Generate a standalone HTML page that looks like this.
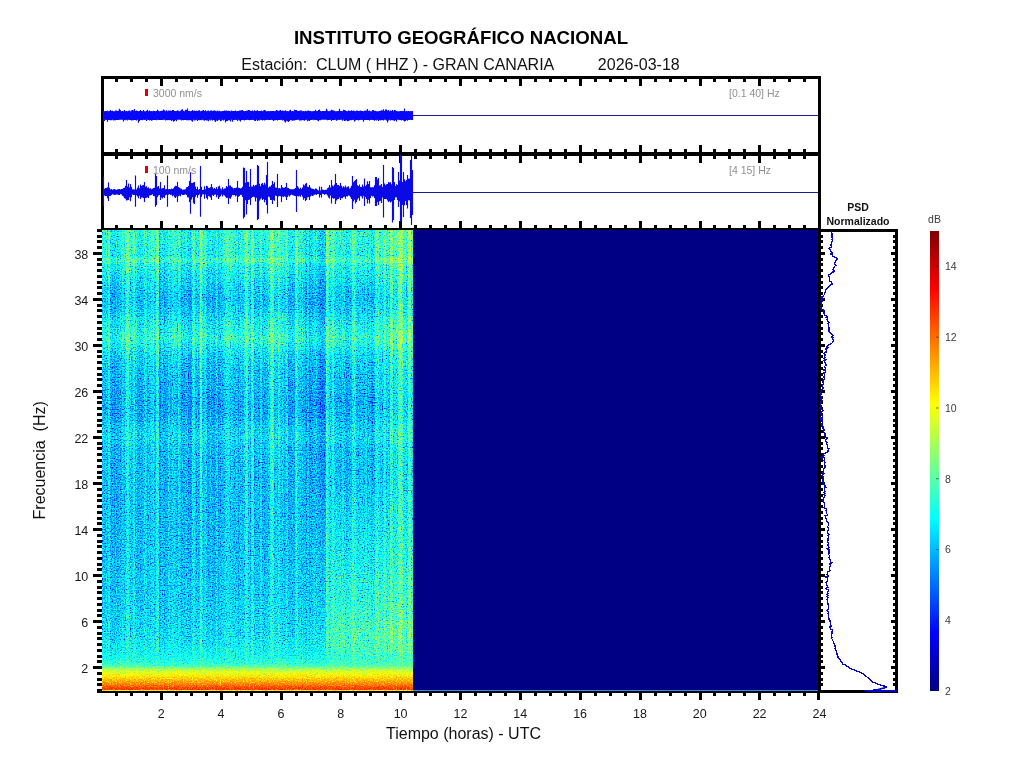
<!DOCTYPE html>
<html><head><meta charset="utf-8"><title>IGN CLUM HHZ</title>
<style>
html,body{margin:0;padding:0;background:#fff;}
body{width:1024px;height:768px;overflow:hidden;font-family:"Liberation Sans",sans-serif;}
svg{display:block;position:absolute;left:0;top:0;}
text{font-family:"Liberation Sans",sans-serif;}
.k{fill:#000;shape-rendering:crispEdges;}
.tl{font-size:12.5px;fill:#1a1a1a;}
.gl{font-size:10.5px;fill:#909090;}
.cl{font-size:10.5px;fill:#3a3a3a;}
</style></head><body>
<svg width="1024" height="768" viewBox="0 0 1024 768" style="opacity:0.999">
<defs>
<filter id="jet" filterUnits="userSpaceOnUse" x="98" y="226" width="319" height="469" color-interpolation-filters="sRGB">
<feTurbulence type="fractalNoise" baseFrequency="0.79 0.74" numOctaves="2" seed="11" result="n"/>
<feColorMatrix in="n" type="matrix" values="1 0 0 0 0 1 0 0 0 0 1 0 0 0 0 0 0 0 0 1" result="g"/>
<feComponentTransfer in="g" result="s">
<feFuncR type="table" tableValues="0.289 0.289 0.289 0.289 0.289 0.289 0.289 0.291 0.297 0.307 0.323 0.356 0.365 0.378 0.397 0.429 0.442 0.461 0.479 0.496 0.514 0.53 0.546 0.556 0.568 0.581 0.596 0.61 0.62 0.63 0.642 0.654 0.665 0.677 0.687 0.696 0.704 0.712 0.721 0.73 0.738 0.744 0.751 0.761 0.771 0.779 0.786 0.792 0.796 0.799 0.81 0.819 0.824 0.827 0.83 0.834 0.837 0.838 0.839 0.839 0.839 0.839 0.839 0.839 0.839"/><feFuncG type="table" tableValues="0.289 0.289 0.289 0.289 0.289 0.289 0.289 0.291 0.297 0.307 0.323 0.356 0.365 0.378 0.397 0.429 0.442 0.461 0.479 0.496 0.514 0.53 0.546 0.556 0.568 0.581 0.596 0.61 0.62 0.63 0.642 0.654 0.665 0.677 0.687 0.696 0.704 0.712 0.721 0.73 0.738 0.744 0.751 0.761 0.771 0.779 0.786 0.792 0.796 0.799 0.81 0.819 0.824 0.827 0.83 0.834 0.837 0.838 0.839 0.839 0.839 0.839 0.839 0.839 0.839"/><feFuncB type="table" tableValues="0.289 0.289 0.289 0.289 0.289 0.289 0.289 0.291 0.297 0.307 0.323 0.356 0.365 0.378 0.397 0.429 0.442 0.461 0.479 0.496 0.514 0.53 0.546 0.556 0.568 0.581 0.596 0.61 0.62 0.63 0.642 0.654 0.665 0.677 0.687 0.696 0.704 0.712 0.721 0.73 0.738 0.744 0.751 0.761 0.771 0.779 0.786 0.792 0.796 0.799 0.81 0.819 0.824 0.827 0.83 0.834 0.837 0.838 0.839 0.839 0.839 0.839 0.839 0.839 0.839"/>
</feComponentTransfer>
<feComposite in="SourceGraphic" in2="s" operator="arithmetic" k1="0" k2="1" k3="0.6923" k4="-0.4615" result="v"/>
<feComponentTransfer in="v" result="c">
<feFuncR type="table" tableValues="0 0 0 0 .5 1 1 1 .5"/>
<feFuncG type="table" tableValues="0 0 .5 1 1 1 .5 0 0"/>
<feFuncB type="table" tableValues=".5 1 1 1 .5 0 0 0 0"/>
</feComponentTransfer>
<feGaussianBlur in="c" stdDeviation="0.35" result="c1"/>
<feGaussianBlur in="c" stdDeviation="0.65" result="b"/>
<feColorMatrix in="c1" type="matrix" values=".299 .587 .114 0 0 .299 .587 .114 0 0 .299 .587 .114 0 0 0 0 0 0 1" result="Lc"/>
<feColorMatrix in="b" type="matrix" values=".299 .587 .114 0 0 .299 .587 .114 0 0 .299 .587 .114 0 0 0 0 0 0 1" result="Lb"/>
<feComposite in="Lc" in2="Lb" operator="arithmetic" k1="0" k2="0.5" k3="-0.5" k4="0.5" result="D"/>
<feComposite in="b" in2="D" operator="arithmetic" k1="0" k2="1" k3="2" k4="-1"/>
</filter>
<filter id="jet2" filterUnits="userSpaceOnUse" x="98" y="226" width="319" height="469" color-interpolation-filters="sRGB">
<feTurbulence type="fractalNoise" baseFrequency="0.79 0.74" numOctaves="2" seed="11" result="n"/>
<feColorMatrix in="n" type="matrix" values="1 0 0 0 0 1 0 0 0 0 1 0 0 0 0 0 0 0 0 1" result="g"/>
<feComponentTransfer in="g" result="s">
<feFuncR type="table" tableValues="0.289 0.289 0.289 0.289 0.289 0.289 0.289 0.291 0.297 0.307 0.323 0.356 0.365 0.378 0.397 0.429 0.442 0.461 0.479 0.496 0.514 0.53 0.546 0.556 0.568 0.581 0.596 0.61 0.62 0.63 0.642 0.654 0.665 0.677 0.687 0.696 0.704 0.712 0.721 0.73 0.738 0.744 0.751 0.761 0.771 0.779 0.786 0.792 0.796 0.799 0.81 0.819 0.824 0.827 0.83 0.834 0.837 0.838 0.839 0.839 0.839 0.839 0.839 0.839 0.839"/><feFuncG type="table" tableValues="0.289 0.289 0.289 0.289 0.289 0.289 0.289 0.291 0.297 0.307 0.323 0.356 0.365 0.378 0.397 0.429 0.442 0.461 0.479 0.496 0.514 0.53 0.546 0.556 0.568 0.581 0.596 0.61 0.62 0.63 0.642 0.654 0.665 0.677 0.687 0.696 0.704 0.712 0.721 0.73 0.738 0.744 0.751 0.761 0.771 0.779 0.786 0.792 0.796 0.799 0.81 0.819 0.824 0.827 0.83 0.834 0.837 0.838 0.839 0.839 0.839 0.839 0.839 0.839 0.839"/><feFuncB type="table" tableValues="0.289 0.289 0.289 0.289 0.289 0.289 0.289 0.291 0.297 0.307 0.323 0.356 0.365 0.378 0.397 0.429 0.442 0.461 0.479 0.496 0.514 0.53 0.546 0.556 0.568 0.581 0.596 0.61 0.62 0.63 0.642 0.654 0.665 0.677 0.687 0.696 0.704 0.712 0.721 0.73 0.738 0.744 0.751 0.761 0.771 0.779 0.786 0.792 0.796 0.799 0.81 0.819 0.824 0.827 0.83 0.834 0.837 0.838 0.839 0.839 0.839 0.839 0.839 0.839 0.839"/>
</feComponentTransfer>
<feComposite in="SourceGraphic" in2="s" operator="arithmetic" k1="0" k2="1" k3="0.3462" k4="-0.2308" result="v"/>
<feComponentTransfer in="v" result="c">
<feFuncR type="table" tableValues="0 0 0 0 .5 1 1 1 .5"/>
<feFuncG type="table" tableValues="0 0 .5 1 1 1 .5 0 0"/>
<feFuncB type="table" tableValues=".5 1 1 1 .5 0 0 0 0"/>
</feComponentTransfer>
<feGaussianBlur in="c" stdDeviation="0.35" result="c1"/>
<feGaussianBlur in="c" stdDeviation="0.65" result="b"/>
<feColorMatrix in="c1" type="matrix" values=".299 .587 .114 0 0 .299 .587 .114 0 0 .299 .587 .114 0 0 0 0 0 0 1" result="Lc"/>
<feColorMatrix in="b" type="matrix" values=".299 .587 .114 0 0 .299 .587 .114 0 0 .299 .587 .114 0 0 0 0 0 0 1" result="Lb"/>
<feComposite in="Lc" in2="Lb" operator="arithmetic" k1="0" k2="0.5" k3="-0.5" k4="0.5" result="D"/>
<feComposite in="b" in2="D" operator="arithmetic" k1="0" k2="1" k3="2" k4="-1"/>
</filter>
<clipPath id="sc"><rect x="102" y="230" width="311" height="461"/></clipPath>
<linearGradient id="bf" gradientUnits="userSpaceOnUse" x1="0" y1="640" x2="0" y2="668"><stop offset="0" stop-color="#000"/><stop offset="1" stop-color="#fff"/></linearGradient>
<mask id="bm" maskUnits="userSpaceOnUse" x="98" y="226" width="319" height="469"><rect x="98" y="226" width="319" height="469" fill="url(#bf)"/></mask>
<linearGradient id="rp" gradientUnits="userSpaceOnUse" x1="0" y1="230" x2="0" y2="691">
<stop offset="0.0013" stop-color="#6e6e6e"/>
<stop offset="0.0262" stop-color="#6e6e6e"/>
<stop offset="0.0462" stop-color="#6b6b6b"/>
<stop offset="0.0574" stop-color="#6b6b6b"/>
<stop offset="0.0624" stop-color="#777777"/>
<stop offset="0.0687" stop-color="#777777"/>
<stop offset="0.0736" stop-color="#6b6b6b"/>
<stop offset="0.0936" stop-color="#646464"/>
<stop offset="0.1260" stop-color="#5a5a5a"/>
<stop offset="0.1510" stop-color="#545454"/>
<stop offset="0.1759" stop-color="#5a5a5a"/>
<stop offset="0.1934" stop-color="#626262"/>
<stop offset="0.2133" stop-color="#686868"/>
<stop offset="0.2358" stop-color="#707070"/>
<stop offset="0.2508" stop-color="#686868"/>
<stop offset="0.2682" stop-color="#5e5e5e"/>
<stop offset="0.3007" stop-color="#565656"/>
<stop offset="0.3505" stop-color="#525252"/>
<stop offset="0.3755" stop-color="#4e4e4e"/>
<stop offset="0.4004" stop-color="#505050"/>
<stop offset="0.4304" stop-color="#585858"/>
<stop offset="0.4503" stop-color="#5c5c5c"/>
<stop offset="0.4753" stop-color="#545454"/>
<stop offset="0.5501" stop-color="#525252"/>
<stop offset="0.6499" stop-color="#525252"/>
<stop offset="0.7497" stop-color="#555555"/>
<stop offset="0.7996" stop-color="#575757"/>
<stop offset="0.8495" stop-color="#5a5a5a"/>
<stop offset="0.8744" stop-color="#5c5c5c"/>
<stop offset="0.8993" stop-color="#606060"/>
<stop offset="0.9243" stop-color="#656565"/>
<stop offset="0.9343" stop-color="#696969"/>
<stop offset="0.9443" stop-color="#707070"/>
<stop offset="0.9542" stop-color="#8f8f8f"/>
<stop offset="0.9637" stop-color="#9f9f9f"/>
<stop offset="0.9762" stop-color="#b1b1b1"/>
<stop offset="0.9852" stop-color="#bfbfbf"/>
<stop offset="0.9931" stop-color="#cecece"/>
<stop offset="0.9966" stop-color="#d4d4d4"/>
<stop offset="0.9979" stop-color="#a9a9a9"/>
<stop offset="0.9991" stop-color="#a5a5a5"/>
</linearGradient>
<linearGradient id="cf" gradientUnits="userSpaceOnUse" x1="0" y1="230" x2="0" y2="691"><stop offset="0" stop-color="#fff"/><stop offset="0.5" stop-color="#fff"/><stop offset="0.75" stop-color="#c4c4c4"/><stop offset="0.9" stop-color="#999"/><stop offset="0.96" stop-color="#000"/><stop offset="1" stop-color="#000"/></linearGradient>
<mask id="cm" maskUnits="userSpaceOnUse" x="98" y="226" width="319" height="469"><rect x="98" y="226" width="319" height="469" fill="url(#cf)"/></mask>
<linearGradient id="cf2" gradientUnits="userSpaceOnUse" x1="0" y1="230" x2="0" y2="691"><stop offset="0" stop-color="#fff"/><stop offset="0.40" stop-color="#fff"/><stop offset="0.62" stop-color="#888"/><stop offset="0.88" stop-color="#777"/><stop offset="0.955" stop-color="#000"/><stop offset="1" stop-color="#000"/></linearGradient>
<mask id="cm2" maskUnits="userSpaceOnUse" x="98" y="226" width="319" height="469"><rect x="98" y="226" width="319" height="469" fill="url(#cf2)"/></mask>
<linearGradient id="hz" gradientUnits="userSpaceOnUse" x1="0" y1="470" x2="0" y2="672"><stop offset="0" stop-color="#fff" stop-opacity="0"/><stop offset="0.25" stop-color="#fff" stop-opacity="0.06"/><stop offset="0.6" stop-color="#fff" stop-opacity="0.11"/><stop offset="0.82" stop-color="#fff" stop-opacity="0.15"/><stop offset="0.92" stop-color="#fff" stop-opacity="0.07"/><stop offset="1" stop-color="#fff" stop-opacity="0"/></linearGradient>
<linearGradient id="hzx" gradientUnits="userSpaceOnUse" x1="300" y1="0" x2="345" y2="0"><stop offset="0" stop-color="#000"/><stop offset="0.55" stop-color="#666"/><stop offset="0.8" stop-color="#fff"/><stop offset="1" stop-color="#fff"/></linearGradient>
<mask id="hm" maskUnits="userSpaceOnUse" x="98" y="226" width="319" height="469"><rect x="98" y="226" width="319" height="469" fill="url(#hzx)"/></mask>
<linearGradient id="cb" x1="0" y1="1" x2="0" y2="0">
<stop offset="0" stop-color="rgb(0,0,128)"/>
<stop offset="0.125" stop-color="rgb(0,0,255)"/>
<stop offset="0.25" stop-color="rgb(0,128,255)"/>
<stop offset="0.375" stop-color="rgb(0,255,255)"/>
<stop offset="0.5" stop-color="rgb(128,255,128)"/>
<stop offset="0.625" stop-color="rgb(255,255,0)"/>
<stop offset="0.75" stop-color="rgb(255,128,0)"/>
<stop offset="0.875" stop-color="rgb(255,0,0)"/>
<stop offset="1" stop-color="rgb(128,0,0)"/>
</linearGradient>
</defs>
<text x="461" y="44.1" text-anchor="middle" font-size="18.65px" font-weight="bold" fill="#000">INSTITUTO GEOGRÁFICO NACIONAL</text>
<text x="460.5" y="70" text-anchor="middle" font-size="16px" fill="#111" xml:space="preserve">Estación:  CLUM ( HHZ ) - GRAN CANARIA          2026-03-18</text>
<rect x="102" y="230" width="716" height="461" fill="#000084"/>
<rect x="413" y="690" width="405" height="1" fill="#2a8cf0"/>
<g clip-path="url(#sc)"><g filter="url(#jet)"><g id="vals">
<rect x="98" y="226" width="319" height="469" fill="url(#rp)"/>
<g shape-rendering="crispEdges" mask="url(#cm2)">
<rect x="98" y="226" width="5" height="469" fill="#fff" fill-opacity="0.013"/>
<rect x="103" y="226" width="1" height="469" fill="#fff" fill-opacity="0.010"/>
<rect x="104" y="226" width="1" height="469" fill="#fff" fill-opacity="0.005"/>
<rect x="106" y="226" width="1" height="469" fill="#000" fill-opacity="0.012"/>
<rect x="107" y="226" width="1" height="469" fill="#000" fill-opacity="0.022"/>
<rect x="110" y="226" width="1" height="469" fill="#000" fill-opacity="0.041"/>
<rect x="111" y="226" width="1" height="469" fill="#000" fill-opacity="0.046"/>
<rect x="112" y="226" width="1" height="469" fill="#000" fill-opacity="0.146"/>
<rect x="113" y="226" width="1" height="469" fill="#000" fill-opacity="0.135"/>
<rect x="114" y="226" width="1" height="469" fill="#000" fill-opacity="0.115"/>
<rect x="115" y="226" width="1" height="469" fill="#000" fill-opacity="0.092"/>
<rect x="116" y="226" width="1" height="469" fill="#000" fill-opacity="0.079"/>
<rect x="117" y="226" width="1" height="469" fill="#000" fill-opacity="0.079"/>
<rect x="118" y="226" width="1" height="469" fill="#000" fill-opacity="0.079"/>
<rect x="119" y="226" width="1" height="469" fill="#000" fill-opacity="0.079"/>
<rect x="120" y="226" width="1" height="469" fill="#000" fill-opacity="0.079"/>
<rect x="121" y="226" width="1" height="469" fill="#000" fill-opacity="0.079"/>
<rect x="122" y="226" width="1" height="469" fill="#fff" fill-opacity="0.022"/>
<rect x="123" y="226" width="1" height="469" fill="#fff" fill-opacity="0.023"/>
<rect x="124" y="226" width="1" height="469" fill="#fff" fill-opacity="0.023"/>
<rect x="125" y="226" width="1" height="469" fill="#fff" fill-opacity="0.022"/>
<rect x="126" y="226" width="1" height="469" fill="#fff" fill-opacity="0.023"/>
<rect x="127" y="226" width="1" height="469" fill="#fff" fill-opacity="0.024"/>
<rect x="128" y="226" width="1" height="469" fill="#fff" fill-opacity="0.024"/>
<rect x="129" y="226" width="1" height="469" fill="#fff" fill-opacity="0.019"/>
<rect x="130" y="226" width="1" height="469" fill="#fff" fill-opacity="0.010"/>
<rect x="132" y="226" width="1" height="469" fill="#000" fill-opacity="0.009"/>
<rect x="135" y="226" width="1" height="469" fill="#fff" fill-opacity="0.005"/>
<rect x="136" y="226" width="1" height="469" fill="#fff" fill-opacity="0.008"/>
<rect x="137" y="226" width="1" height="469" fill="#000" fill-opacity="0.079"/>
<rect x="138" y="226" width="1" height="469" fill="#000" fill-opacity="0.090"/>
<rect x="139" y="226" width="1" height="469" fill="#000" fill-opacity="0.103"/>
<rect x="140" y="226" width="1" height="469" fill="#000" fill-opacity="0.111"/>
<rect x="141" y="226" width="1" height="469" fill="#000" fill-opacity="0.108"/>
<rect x="142" y="226" width="1" height="469" fill="#000" fill-opacity="0.096"/>
<rect x="143" y="226" width="1" height="469" fill="#000" fill-opacity="0.080"/>
<rect x="144" y="226" width="1" height="469" fill="#000" fill-opacity="0.068"/>
<rect x="145" y="226" width="1" height="469" fill="#000" fill-opacity="0.068"/>
<rect x="146" y="226" width="1" height="469" fill="#000" fill-opacity="0.068"/>
<rect x="147" y="226" width="1" height="469" fill="#000" fill-opacity="0.068"/>
<rect x="148" y="226" width="1" height="469" fill="#fff" fill-opacity="0.015"/>
<rect x="149" y="226" width="1" height="469" fill="#fff" fill-opacity="0.018"/>
<rect x="150" y="226" width="1" height="469" fill="#fff" fill-opacity="0.021"/>
<rect x="151" y="226" width="1" height="469" fill="#fff" fill-opacity="0.022"/>
<rect x="152" y="226" width="1" height="469" fill="#fff" fill-opacity="0.018"/>
<rect x="153" y="226" width="1" height="469" fill="#fff" fill-opacity="0.010"/>
<rect x="155" y="226" width="1" height="469" fill="#000" fill-opacity="0.015"/>
<rect x="159" y="226" width="1" height="469" fill="#000" fill-opacity="0.133"/>
<rect x="160" y="226" width="1" height="469" fill="#000" fill-opacity="0.124"/>
<rect x="161" y="226" width="1" height="469" fill="#000" fill-opacity="0.115"/>
<rect x="162" y="226" width="1" height="469" fill="#000" fill-opacity="0.106"/>
<rect x="163" y="226" width="1" height="469" fill="#000" fill-opacity="0.101"/>
<rect x="164" y="226" width="1" height="469" fill="#000" fill-opacity="0.101"/>
<rect x="165" y="226" width="1" height="469" fill="#000" fill-opacity="0.105"/>
<rect x="166" y="226" width="1" height="469" fill="#000" fill-opacity="0.111"/>
<rect x="167" y="226" width="1" height="469" fill="#000" fill-opacity="0.117"/>
<rect x="168" y="226" width="1" height="469" fill="#000" fill-opacity="0.102"/>
<rect x="169" y="226" width="1" height="469" fill="#000" fill-opacity="0.102"/>
<rect x="170" y="226" width="1" height="469" fill="#000" fill-opacity="0.103"/>
<rect x="171" y="226" width="1" height="469" fill="#000" fill-opacity="0.094"/>
<rect x="172" y="226" width="1" height="469" fill="#000" fill-opacity="0.086"/>
<rect x="173" y="226" width="1" height="469" fill="#fff" fill-opacity="0.012"/>
<rect x="174" y="226" width="1" height="469" fill="#fff" fill-opacity="0.015"/>
<rect x="175" y="226" width="1" height="469" fill="#fff" fill-opacity="0.018"/>
<rect x="176" y="226" width="1" height="469" fill="#fff" fill-opacity="0.018"/>
<rect x="177" y="226" width="1" height="469" fill="#fff" fill-opacity="0.015"/>
<rect x="178" y="226" width="1" height="469" fill="#fff" fill-opacity="0.012"/>
<rect x="179" y="226" width="1" height="469" fill="#fff" fill-opacity="0.009"/>
<rect x="180" y="226" width="1" height="469" fill="#fff" fill-opacity="0.009"/>
<rect x="181" y="226" width="1" height="469" fill="#000" fill-opacity="0.082"/>
<rect x="182" y="226" width="1" height="469" fill="#000" fill-opacity="0.079"/>
<rect x="183" y="226" width="1" height="469" fill="#000" fill-opacity="0.079"/>
<rect x="184" y="226" width="1" height="469" fill="#000" fill-opacity="0.085"/>
<rect x="185" y="226" width="1" height="469" fill="#000" fill-opacity="0.098"/>
<rect x="186" y="226" width="1" height="469" fill="#000" fill-opacity="0.113"/>
<rect x="187" y="226" width="1" height="469" fill="#000" fill-opacity="0.127"/>
<rect x="188" y="226" width="1" height="469" fill="#000" fill-opacity="0.141"/>
<rect x="189" y="226" width="1" height="469" fill="#000" fill-opacity="0.156"/>
<rect x="190" y="226" width="1" height="469" fill="#000" fill-opacity="0.172"/>
<rect x="191" y="226" width="1" height="469" fill="#000" fill-opacity="0.187"/>
<rect x="195" y="226" width="1" height="469" fill="#000" fill-opacity="0.062"/>
<rect x="196" y="226" width="1" height="469" fill="#000" fill-opacity="0.039"/>
<rect x="197" y="226" width="1" height="469" fill="#000" fill-opacity="0.013"/>
<rect x="198" y="226" width="1" height="469" fill="#fff" fill-opacity="0.007"/>
<rect x="199" y="226" width="1" height="469" fill="#fff" fill-opacity="0.017"/>
<rect x="200" y="226" width="1" height="469" fill="#fff" fill-opacity="0.024"/>
<rect x="201" y="226" width="1" height="469" fill="#fff" fill-opacity="0.024"/>
<rect x="202" y="226" width="1" height="469" fill="#fff" fill-opacity="0.020"/>
<rect x="203" y="226" width="1" height="469" fill="#fff" fill-opacity="0.012"/>
<rect x="204" y="226" width="1" height="469" fill="#fff" fill-opacity="0.003"/>
<rect x="206" y="226" width="1" height="469" fill="#000" fill-opacity="0.008"/>
<rect x="207" y="226" width="1" height="469" fill="#000" fill-opacity="0.118"/>
<rect x="208" y="226" width="1" height="469" fill="#000" fill-opacity="0.113"/>
<rect x="209" y="226" width="1" height="469" fill="#000" fill-opacity="0.106"/>
<rect x="210" y="226" width="1" height="469" fill="#000" fill-opacity="0.096"/>
<rect x="211" y="226" width="1" height="469" fill="#000" fill-opacity="0.090"/>
<rect x="212" y="226" width="1" height="469" fill="#000" fill-opacity="0.090"/>
<rect x="213" y="226" width="1" height="469" fill="#000" fill-opacity="0.090"/>
<rect x="214" y="226" width="1" height="469" fill="#000" fill-opacity="0.100"/>
<rect x="215" y="226" width="1" height="469" fill="#000" fill-opacity="0.113"/>
<rect x="216" y="226" width="1" height="469" fill="#000" fill-opacity="0.113"/>
<rect x="217" y="226" width="1" height="469" fill="#000" fill-opacity="0.113"/>
<rect x="218" y="226" width="1" height="469" fill="#000" fill-opacity="0.127"/>
<rect x="219" y="226" width="1" height="469" fill="#000" fill-opacity="0.123"/>
<rect x="220" y="226" width="1" height="469" fill="#000" fill-opacity="0.120"/>
<rect x="221" y="226" width="1" height="469" fill="#000" fill-opacity="0.119"/>
<rect x="222" y="226" width="1" height="469" fill="#000" fill-opacity="0.121"/>
<rect x="223" y="226" width="1" height="469" fill="#000" fill-opacity="0.009"/>
<rect x="224" y="226" width="1" height="469" fill="#000" fill-opacity="0.009"/>
<rect x="229" y="226" width="1" height="469" fill="#fff" fill-opacity="0.005"/>
<rect x="230" y="226" width="1" height="469" fill="#fff" fill-opacity="0.009"/>
<rect x="231" y="226" width="1" height="469" fill="#fff" fill-opacity="0.015"/>
<rect x="232" y="226" width="1" height="469" fill="#fff" fill-opacity="0.024"/>
<rect x="233" y="226" width="1" height="469" fill="#000" fill-opacity="0.034"/>
<rect x="234" y="226" width="1" height="469" fill="#000" fill-opacity="0.034"/>
<rect x="235" y="226" width="1" height="469" fill="#000" fill-opacity="0.034"/>
<rect x="236" y="226" width="1" height="469" fill="#000" fill-opacity="0.034"/>
<rect x="237" y="226" width="1" height="469" fill="#000" fill-opacity="0.034"/>
<rect x="238" y="226" width="1" height="469" fill="#000" fill-opacity="0.034"/>
<rect x="239" y="226" width="1" height="469" fill="#000" fill-opacity="0.034"/>
<rect x="240" y="226" width="1" height="469" fill="#000" fill-opacity="0.034"/>
<rect x="241" y="226" width="1" height="469" fill="#000" fill-opacity="0.034"/>
<rect x="242" y="226" width="1" height="469" fill="#000" fill-opacity="0.044"/>
<rect x="244" y="226" width="1" height="469" fill="#fff" fill-opacity="0.004"/>
<rect x="245" y="226" width="1" height="469" fill="#fff" fill-opacity="0.010"/>
<rect x="246" y="226" width="1" height="469" fill="#fff" fill-opacity="0.017"/>
<rect x="247" y="226" width="1" height="469" fill="#fff" fill-opacity="0.020"/>
<rect x="248" y="226" width="1" height="469" fill="#fff" fill-opacity="0.015"/>
<rect x="250" y="226" width="1" height="469" fill="#000" fill-opacity="0.025"/>
<rect x="254" y="226" width="1" height="469" fill="#000" fill-opacity="0.043"/>
<rect x="255" y="226" width="1" height="469" fill="#000" fill-opacity="0.037"/>
<rect x="256" y="226" width="1" height="469" fill="#000" fill-opacity="0.037"/>
<rect x="257" y="226" width="1" height="469" fill="#000" fill-opacity="0.083"/>
<rect x="258" y="226" width="1" height="469" fill="#000" fill-opacity="0.081"/>
<rect x="259" y="226" width="1" height="469" fill="#000" fill-opacity="0.074"/>
<rect x="260" y="226" width="1" height="469" fill="#000" fill-opacity="0.045"/>
<rect x="261" y="226" width="1" height="469" fill="#000" fill-opacity="0.045"/>
<rect x="262" y="226" width="1" height="469" fill="#000" fill-opacity="0.050"/>
<rect x="263" y="226" width="1" height="469" fill="#000" fill-opacity="0.045"/>
<rect x="264" y="226" width="1" height="469" fill="#000" fill-opacity="0.041"/>
<rect x="265" y="226" width="1" height="469" fill="#000" fill-opacity="0.034"/>
<rect x="266" y="226" width="1" height="469" fill="#000" fill-opacity="0.026"/>
<rect x="267" y="226" width="1" height="469" fill="#000" fill-opacity="0.023"/>
<rect x="268" y="226" width="1" height="469" fill="#fff" fill-opacity="0.016"/>
<rect x="269" y="226" width="1" height="469" fill="#fff" fill-opacity="0.015"/>
<rect x="270" y="226" width="1" height="469" fill="#fff" fill-opacity="0.013"/>
<rect x="271" y="226" width="1" height="469" fill="#fff" fill-opacity="0.010"/>
<rect x="272" y="226" width="1" height="469" fill="#fff" fill-opacity="0.007"/>
<rect x="273" y="226" width="1" height="469" fill="#fff" fill-opacity="0.004"/>
<rect x="275" y="226" width="1" height="469" fill="#000" fill-opacity="0.009"/>
<rect x="276" y="226" width="1" height="469" fill="#000" fill-opacity="0.010"/>
<rect x="278" y="226" width="1" height="469" fill="#fff" fill-opacity="0.006"/>
<rect x="279" y="226" width="1" height="469" fill="#fff" fill-opacity="0.012"/>
<rect x="280" y="226" width="1" height="469" fill="#fff" fill-opacity="0.018"/>
<rect x="281" y="226" width="1" height="469" fill="#fff" fill-opacity="0.021"/>
<rect x="282" y="226" width="1" height="469" fill="#fff" fill-opacity="0.022"/>
<rect x="283" y="226" width="1" height="469" fill="#fff" fill-opacity="0.018"/>
<rect x="284" y="226" width="1" height="469" fill="#fff" fill-opacity="0.011"/>
<rect x="288" y="226" width="1" height="469" fill="#000" fill-opacity="0.080"/>
<rect x="289" y="226" width="1" height="469" fill="#000" fill-opacity="0.097"/>
<rect x="290" y="226" width="1" height="469" fill="#000" fill-opacity="0.110"/>
<rect x="291" y="226" width="1" height="469" fill="#000" fill-opacity="0.119"/>
<rect x="292" y="226" width="1" height="469" fill="#000" fill-opacity="0.121"/>
<rect x="293" y="226" width="1" height="469" fill="#000" fill-opacity="0.115"/>
<rect x="294" y="226" width="1" height="469" fill="#000" fill-opacity="0.102"/>
<rect x="298" y="226" width="1" height="469" fill="#000" fill-opacity="0.042"/>
<rect x="299" y="226" width="1" height="469" fill="#000" fill-opacity="0.028"/>
<rect x="300" y="226" width="1" height="469" fill="#000" fill-opacity="0.019"/>
<rect x="301" y="226" width="1" height="469" fill="#000" fill-opacity="0.019"/>
<rect x="302" y="226" width="1" height="469" fill="#000" fill-opacity="0.033"/>
<rect x="303" y="226" width="1" height="469" fill="#000" fill-opacity="0.056"/>
<rect x="304" y="226" width="1" height="469" fill="#000" fill-opacity="0.081"/>
<rect x="305" y="226" width="1" height="469" fill="#000" fill-opacity="0.199"/>
<rect x="306" y="226" width="1" height="469" fill="#000" fill-opacity="0.204"/>
<rect x="307" y="226" width="1" height="469" fill="#000" fill-opacity="0.102"/>
<rect x="308" y="226" width="1" height="469" fill="#000" fill-opacity="0.102"/>
<rect x="309" y="226" width="1" height="469" fill="#000" fill-opacity="0.182"/>
<rect x="310" y="226" width="1" height="469" fill="#000" fill-opacity="0.175"/>
<rect x="311" y="226" width="1" height="469" fill="#000" fill-opacity="0.165"/>
<rect x="312" y="226" width="1" height="469" fill="#000" fill-opacity="0.147"/>
<rect x="313" y="226" width="1" height="469" fill="#000" fill-opacity="0.122"/>
<rect x="314" y="226" width="1" height="469" fill="#000" fill-opacity="0.094"/>
<rect x="315" y="226" width="1" height="469" fill="#000" fill-opacity="0.079"/>
<rect x="316" y="226" width="1" height="469" fill="#000" fill-opacity="0.079"/>
<rect x="317" y="226" width="1" height="469" fill="#000" fill-opacity="0.079"/>
<rect x="318" y="226" width="1" height="469" fill="#000" fill-opacity="0.184"/>
<rect x="319" y="226" width="1" height="469" fill="#000" fill-opacity="0.201"/>
<rect x="320" y="226" width="1" height="469" fill="#000" fill-opacity="0.211"/>
<rect x="321" y="226" width="1" height="469" fill="#000" fill-opacity="0.211"/>
<rect x="322" y="226" width="1" height="469" fill="#000" fill-opacity="0.202"/>
<rect x="323" y="226" width="1" height="469" fill="#000" fill-opacity="0.191"/>
<rect x="324" y="226" width="1" height="469" fill="#000" fill-opacity="0.184"/>
<rect x="325" y="226" width="1" height="469" fill="#000" fill-opacity="0.181"/>
<rect x="326" y="226" width="1" height="469" fill="#fff" fill-opacity="0.013"/>
<rect x="327" y="226" width="1" height="469" fill="#fff" fill-opacity="0.014"/>
<rect x="328" y="226" width="1" height="469" fill="#fff" fill-opacity="0.013"/>
<rect x="329" y="226" width="1" height="469" fill="#fff" fill-opacity="0.011"/>
<rect x="330" y="226" width="1" height="469" fill="#fff" fill-opacity="0.008"/>
<rect x="331" y="226" width="1" height="469" fill="#fff" fill-opacity="0.008"/>
<rect x="332" y="226" width="1" height="469" fill="#fff" fill-opacity="0.011"/>
<rect x="333" y="226" width="1" height="469" fill="#fff" fill-opacity="0.014"/>
<rect x="334" y="226" width="1" height="469" fill="#fff" fill-opacity="0.017"/>
<rect x="335" y="226" width="1" height="469" fill="#fff" fill-opacity="0.016"/>
<rect x="336" y="226" width="1" height="469" fill="#000" fill-opacity="0.079"/>
<rect x="337" y="226" width="1" height="469" fill="#000" fill-opacity="0.080"/>
<rect x="338" y="226" width="1" height="469" fill="#000" fill-opacity="0.080"/>
<rect x="339" y="226" width="1" height="469" fill="#000" fill-opacity="0.079"/>
<rect x="340" y="226" width="1" height="469" fill="#000" fill-opacity="0.079"/>
<rect x="341" y="226" width="1" height="469" fill="#000" fill-opacity="0.079"/>
<rect x="342" y="226" width="1" height="469" fill="#000" fill-opacity="0.079"/>
<rect x="343" y="226" width="1" height="469" fill="#000" fill-opacity="0.079"/>
<rect x="344" y="226" width="1" height="469" fill="#000" fill-opacity="0.079"/>
<rect x="345" y="226" width="1" height="469" fill="#000" fill-opacity="0.084"/>
<rect x="346" y="226" width="1" height="469" fill="#000" fill-opacity="0.091"/>
<rect x="347" y="226" width="1" height="469" fill="#000" fill-opacity="0.097"/>
<rect x="348" y="226" width="1" height="469" fill="#000" fill-opacity="0.102"/>
<rect x="349" y="226" width="1" height="469" fill="#000" fill-opacity="0.111"/>
<rect x="350" y="226" width="1" height="469" fill="#000" fill-opacity="0.023"/>
<rect x="351" y="226" width="1" height="469" fill="#000" fill-opacity="0.039"/>
<rect x="356" y="226" width="1" height="469" fill="#000" fill-opacity="0.073"/>
<rect x="357" y="226" width="1" height="469" fill="#000" fill-opacity="0.072"/>
<rect x="358" y="226" width="1" height="469" fill="#000" fill-opacity="0.065"/>
<rect x="359" y="226" width="1" height="469" fill="#000" fill-opacity="0.048"/>
<rect x="360" y="226" width="1" height="469" fill="#000" fill-opacity="0.022"/>
<rect x="362" y="226" width="1" height="469" fill="#000" fill-opacity="0.068"/>
<rect x="363" y="226" width="1" height="469" fill="#000" fill-opacity="0.068"/>
<rect x="364" y="226" width="1" height="469" fill="#000" fill-opacity="0.068"/>
<rect x="365" y="226" width="1" height="469" fill="#000" fill-opacity="0.074"/>
<rect x="366" y="226" width="1" height="469" fill="#000" fill-opacity="0.075"/>
<rect x="367" y="226" width="1" height="469" fill="#000" fill-opacity="0.069"/>
<rect x="368" y="226" width="1" height="469" fill="#000" fill-opacity="0.068"/>
<rect x="369" y="226" width="1" height="469" fill="#000" fill-opacity="0.068"/>
<rect x="370" y="226" width="1" height="469" fill="#000" fill-opacity="0.068"/>
<rect x="371" y="226" width="1" height="469" fill="#000" fill-opacity="0.069"/>
<rect x="372" y="226" width="1" height="469" fill="#000" fill-opacity="0.070"/>
<rect x="373" y="226" width="1" height="469" fill="#000" fill-opacity="0.064"/>
<rect x="374" y="226" width="1" height="469" fill="#000" fill-opacity="0.059"/>
<rect x="375" y="226" width="1" height="469" fill="#fff" fill-opacity="0.018"/>
<rect x="376" y="226" width="1" height="469" fill="#fff" fill-opacity="0.017"/>
<rect x="377" y="226" width="1" height="469" fill="#fff" fill-opacity="0.016"/>
<rect x="378" y="226" width="1" height="469" fill="#fff" fill-opacity="0.016"/>
<rect x="379" y="226" width="1" height="469" fill="#fff" fill-opacity="0.019"/>
<rect x="380" y="226" width="1" height="469" fill="#fff" fill-opacity="0.027"/>
<rect x="381" y="226" width="1" height="469" fill="#fff" fill-opacity="0.038"/>
<rect x="382" y="226" width="1" height="469" fill="#fff" fill-opacity="0.047"/>
<rect x="383" y="226" width="1" height="469" fill="#fff" fill-opacity="0.050"/>
<rect x="384" y="226" width="1" height="469" fill="#fff" fill-opacity="0.047"/>
<rect x="385" y="226" width="1" height="469" fill="#fff" fill-opacity="0.039"/>
<rect x="386" y="226" width="1" height="469" fill="#fff" fill-opacity="0.030"/>
<rect x="387" y="226" width="1" height="469" fill="#fff" fill-opacity="0.023"/>
<rect x="388" y="226" width="1" height="469" fill="#fff" fill-opacity="0.020"/>
<rect x="389" y="226" width="1" height="469" fill="#fff" fill-opacity="0.023"/>
<rect x="390" y="226" width="1" height="469" fill="#fff" fill-opacity="0.042"/>
<rect x="391" y="226" width="1" height="469" fill="#fff" fill-opacity="0.044"/>
<rect x="392" y="226" width="1" height="469" fill="#fff" fill-opacity="0.047"/>
<rect x="393" y="226" width="1" height="469" fill="#fff" fill-opacity="0.034"/>
<rect x="394" y="226" width="1" height="469" fill="#fff" fill-opacity="0.033"/>
<rect x="395" y="226" width="1" height="469" fill="#fff" fill-opacity="0.037"/>
<rect x="396" y="226" width="1" height="469" fill="#fff" fill-opacity="0.046"/>
<rect x="397" y="226" width="1" height="469" fill="#fff" fill-opacity="0.057"/>
<rect x="398" y="226" width="1" height="469" fill="#fff" fill-opacity="0.064"/>
<rect x="399" y="226" width="1" height="469" fill="#fff" fill-opacity="0.063"/>
<rect x="400" y="226" width="1" height="469" fill="#fff" fill-opacity="0.065"/>
<rect x="401" y="226" width="1" height="469" fill="#fff" fill-opacity="0.068"/>
<rect x="402" y="226" width="1" height="469" fill="#fff" fill-opacity="0.070"/>
<rect x="403" y="226" width="1" height="469" fill="#fff" fill-opacity="0.032"/>
<rect x="404" y="226" width="1" height="469" fill="#fff" fill-opacity="0.037"/>
<rect x="405" y="226" width="1" height="469" fill="#fff" fill-opacity="0.045"/>
<rect x="406" y="226" width="1" height="469" fill="#fff" fill-opacity="0.053"/>
<rect x="407" y="226" width="1" height="469" fill="#fff" fill-opacity="0.060"/>
<rect x="408" y="226" width="1" height="469" fill="#fff" fill-opacity="0.070"/>
<rect x="409" y="226" width="1" height="469" fill="#fff" fill-opacity="0.070"/>
<rect x="410" y="226" width="1" height="469" fill="#fff" fill-opacity="0.070"/>
<rect x="411" y="226" width="1" height="469" fill="#fff" fill-opacity="0.069"/>
<rect x="412" y="226" width="5" height="469" fill="#fff" fill-opacity="0.070"/>
</g>
<g shape-rendering="crispEdges" mask="url(#cm)">
<rect x="98" y="226" width="5" height="469" fill="#000" fill-opacity="0.035"/>
<rect x="104" y="226" width="1" height="469" fill="#000" fill-opacity="0.066"/>
<rect x="105" y="226" width="1" height="469" fill="#000" fill-opacity="0.019"/>
<rect x="106" y="226" width="1" height="469" fill="#fff" fill-opacity="0.010"/>
<rect x="107" y="226" width="1" height="469" fill="#000" fill-opacity="0.030"/>
<rect x="108" y="226" width="1" height="469" fill="#fff" fill-opacity="0.084"/>
<rect x="109" y="226" width="1" height="469" fill="#fff" fill-opacity="0.084"/>
<rect x="110" y="226" width="1" height="469" fill="#000" fill-opacity="0.027"/>
<rect x="111" y="226" width="1" height="469" fill="#000" fill-opacity="0.109"/>
<rect x="112" y="226" width="1" height="469" fill="#fff" fill-opacity="0.021"/>
<rect x="113" y="226" width="1" height="469" fill="#fff" fill-opacity="0.031"/>
<rect x="114" y="226" width="1" height="469" fill="#000" fill-opacity="0.072"/>
<rect x="115" y="226" width="1" height="469" fill="#fff" fill-opacity="0.005"/>
<rect x="116" y="226" width="1" height="469" fill="#fff" fill-opacity="0.008"/>
<rect x="117" y="226" width="1" height="469" fill="#000" fill-opacity="0.073"/>
<rect x="118" y="226" width="1" height="469" fill="#000" fill-opacity="0.024"/>
<rect x="119" y="226" width="1" height="469" fill="#fff" fill-opacity="0.029"/>
<rect x="120" y="226" width="1" height="469" fill="#fff" fill-opacity="0.005"/>
<rect x="122" y="226" width="1" height="469" fill="#fff" fill-opacity="0.027"/>
<rect x="123" y="226" width="1" height="469" fill="#000" fill-opacity="0.026"/>
<rect x="124" y="226" width="1" height="469" fill="#000" fill-opacity="0.081"/>
<rect x="125" y="226" width="1" height="469" fill="#fff" fill-opacity="0.032"/>
<rect x="126" y="226" width="1" height="469" fill="#fff" fill-opacity="0.091"/>
<rect x="127" y="226" width="1" height="469" fill="#fff" fill-opacity="0.121"/>
<rect x="128" y="226" width="1" height="469" fill="#fff" fill-opacity="0.091"/>
<rect x="129" y="226" width="1" height="469" fill="#fff" fill-opacity="0.007"/>
<rect x="130" y="226" width="1" height="469" fill="#fff" fill-opacity="0.005"/>
<rect x="131" y="226" width="1" height="469" fill="#000" fill-opacity="0.026"/>
<rect x="132" y="226" width="1" height="469" fill="#fff" fill-opacity="0.014"/>
<rect x="133" y="226" width="1" height="469" fill="#fff" fill-opacity="0.075"/>
<rect x="134" y="226" width="1" height="469" fill="#fff" fill-opacity="0.075"/>
<rect x="135" y="226" width="1" height="469" fill="#000" fill-opacity="0.049"/>
<rect x="136" y="226" width="1" height="469" fill="#fff" fill-opacity="0.008"/>
<rect x="137" y="226" width="1" height="469" fill="#000" fill-opacity="0.031"/>
<rect x="138" y="226" width="1" height="469" fill="#fff" fill-opacity="0.004"/>
<rect x="140" y="226" width="1" height="469" fill="#fff" fill-opacity="0.013"/>
<rect x="141" y="226" width="1" height="469" fill="#fff" fill-opacity="0.006"/>
<rect x="142" y="226" width="1" height="469" fill="#fff" fill-opacity="0.008"/>
<rect x="143" y="226" width="1" height="469" fill="#fff" fill-opacity="0.031"/>
<rect x="144" y="226" width="1" height="469" fill="#fff" fill-opacity="0.070"/>
<rect x="145" y="226" width="1" height="469" fill="#fff" fill-opacity="0.093"/>
<rect x="146" y="226" width="1" height="469" fill="#fff" fill-opacity="0.070"/>
<rect x="147" y="226" width="1" height="469" fill="#000" fill-opacity="0.053"/>
<rect x="148" y="226" width="1" height="469" fill="#000" fill-opacity="0.041"/>
<rect x="149" y="226" width="1" height="469" fill="#000" fill-opacity="0.013"/>
<rect x="150" y="226" width="1" height="469" fill="#000" fill-opacity="0.022"/>
<rect x="151" y="226" width="1" height="469" fill="#fff" fill-opacity="0.027"/>
<rect x="152" y="226" width="1" height="469" fill="#fff" fill-opacity="0.004"/>
<rect x="153" y="226" width="1" height="469" fill="#fff" fill-opacity="0.069"/>
<rect x="154" y="226" width="1" height="469" fill="#000" fill-opacity="0.015"/>
<rect x="155" y="226" width="1" height="469" fill="#000" fill-opacity="0.012"/>
<rect x="156" y="226" width="1" height="469" fill="#fff" fill-opacity="0.112"/>
<rect x="157" y="226" width="1" height="469" fill="#fff" fill-opacity="0.149"/>
<rect x="158" y="226" width="1" height="469" fill="#fff" fill-opacity="0.112"/>
<rect x="159" y="226" width="1" height="469" fill="#000" fill-opacity="0.139"/>
<rect x="160" y="226" width="1" height="469" fill="#000" fill-opacity="0.028"/>
<rect x="161" y="226" width="1" height="469" fill="#fff" fill-opacity="0.034"/>
<rect x="162" y="226" width="1" height="469" fill="#fff" fill-opacity="0.038"/>
<rect x="163" y="226" width="1" height="469" fill="#fff" fill-opacity="0.012"/>
<rect x="164" y="226" width="1" height="469" fill="#000" fill-opacity="0.027"/>
<rect x="166" y="226" width="1" height="469" fill="#fff" fill-opacity="0.020"/>
<rect x="167" y="226" width="1" height="469" fill="#fff" fill-opacity="0.009"/>
<rect x="168" y="226" width="1" height="469" fill="#fff" fill-opacity="0.084"/>
<rect x="169" y="226" width="1" height="469" fill="#fff" fill-opacity="0.084"/>
<rect x="170" y="226" width="1" height="469" fill="#fff" fill-opacity="0.021"/>
<rect x="171" y="226" width="1" height="469" fill="#fff" fill-opacity="0.031"/>
<rect x="172" y="226" width="1" height="469" fill="#fff" fill-opacity="0.065"/>
<rect x="173" y="226" width="1" height="469" fill="#fff" fill-opacity="0.018"/>
<rect x="174" y="226" width="1" height="469" fill="#fff" fill-opacity="0.018"/>
<rect x="175" y="226" width="1" height="469" fill="#000" fill-opacity="0.035"/>
<rect x="176" y="226" width="1" height="469" fill="#000" fill-opacity="0.058"/>
<rect x="177" y="226" width="1" height="469" fill="#000" fill-opacity="0.101"/>
<rect x="178" y="226" width="1" height="469" fill="#fff" fill-opacity="0.056"/>
<rect x="179" y="226" width="1" height="469" fill="#fff" fill-opacity="0.056"/>
<rect x="181" y="226" width="1" height="469" fill="#000" fill-opacity="0.109"/>
<rect x="182" y="226" width="1" height="469" fill="#fff" fill-opacity="0.006"/>
<rect x="183" y="226" width="1" height="469" fill="#000" fill-opacity="0.006"/>
<rect x="184" y="226" width="1" height="469" fill="#000" fill-opacity="0.014"/>
<rect x="185" y="226" width="1" height="469" fill="#fff" fill-opacity="0.043"/>
<rect x="186" y="226" width="1" height="469" fill="#fff" fill-opacity="0.031"/>
<rect x="187" y="226" width="1" height="469" fill="#fff" fill-opacity="0.037"/>
<rect x="188" y="226" width="1" height="469" fill="#000" fill-opacity="0.032"/>
<rect x="189" y="226" width="1" height="469" fill="#fff" fill-opacity="0.010"/>
<rect x="190" y="226" width="1" height="469" fill="#000" fill-opacity="0.046"/>
<rect x="191" y="226" width="1" height="469" fill="#fff" fill-opacity="0.029"/>
<rect x="192" y="226" width="1" height="469" fill="#fff" fill-opacity="0.063"/>
<rect x="193" y="226" width="1" height="469" fill="#fff" fill-opacity="0.084"/>
<rect x="194" y="226" width="1" height="469" fill="#fff" fill-opacity="0.063"/>
<rect x="195" y="226" width="1" height="469" fill="#fff" fill-opacity="0.007"/>
<rect x="196" y="226" width="1" height="469" fill="#000" fill-opacity="0.062"/>
<rect x="197" y="226" width="1" height="469" fill="#fff" fill-opacity="0.018"/>
<rect x="198" y="226" width="1" height="469" fill="#000" fill-opacity="0.079"/>
<rect x="199" y="226" width="1" height="469" fill="#000" fill-opacity="0.053"/>
<rect x="200" y="226" width="1" height="469" fill="#fff" fill-opacity="0.149"/>
<rect x="201" y="226" width="1" height="469" fill="#fff" fill-opacity="0.149"/>
<rect x="202" y="226" width="1" height="469" fill="#fff" fill-opacity="0.004"/>
<rect x="203" y="226" width="1" height="469" fill="#000" fill-opacity="0.028"/>
<rect x="204" y="226" width="1" height="469" fill="#fff" fill-opacity="0.014"/>
<rect x="205" y="226" width="1" height="469" fill="#fff" fill-opacity="0.057"/>
<rect x="207" y="226" width="1" height="469" fill="#000" fill-opacity="0.045"/>
<rect x="208" y="226" width="1" height="469" fill="#000" fill-opacity="0.047"/>
<rect x="210" y="226" width="1" height="469" fill="#fff" fill-opacity="0.041"/>
<rect x="212" y="226" width="1" height="469" fill="#000" fill-opacity="0.008"/>
<rect x="213" y="226" width="1" height="469" fill="#000" fill-opacity="0.042"/>
<rect x="214" y="226" width="1" height="469" fill="#000" fill-opacity="0.049"/>
<rect x="215" y="226" width="1" height="469" fill="#fff" fill-opacity="0.026"/>
<rect x="216" y="226" width="1" height="469" fill="#fff" fill-opacity="0.075"/>
<rect x="217" y="226" width="1" height="469" fill="#fff" fill-opacity="0.075"/>
<rect x="218" y="226" width="1" height="469" fill="#000" fill-opacity="0.059"/>
<rect x="219" y="226" width="1" height="469" fill="#fff" fill-opacity="0.015"/>
<rect x="220" y="226" width="1" height="469" fill="#fff" fill-opacity="0.009"/>
<rect x="221" y="226" width="1" height="469" fill="#fff" fill-opacity="0.037"/>
<rect x="222" y="226" width="1" height="469" fill="#fff" fill-opacity="0.026"/>
<rect x="223" y="226" width="1" height="469" fill="#000" fill-opacity="0.008"/>
<rect x="224" y="226" width="1" height="469" fill="#fff" fill-opacity="0.009"/>
<rect x="225" y="226" width="1" height="469" fill="#fff" fill-opacity="0.042"/>
<rect x="226" y="226" width="1" height="469" fill="#fff" fill-opacity="0.056"/>
<rect x="227" y="226" width="1" height="469" fill="#fff" fill-opacity="0.056"/>
<rect x="228" y="226" width="1" height="469" fill="#fff" fill-opacity="0.056"/>
<rect x="229" y="226" width="1" height="469" fill="#fff" fill-opacity="0.042"/>
<rect x="231" y="226" width="1" height="469" fill="#fff" fill-opacity="0.040"/>
<rect x="232" y="226" width="1" height="469" fill="#000" fill-opacity="0.012"/>
<rect x="233" y="226" width="1" height="469" fill="#000" fill-opacity="0.013"/>
<rect x="235" y="226" width="1" height="469" fill="#000" fill-opacity="0.011"/>
<rect x="236" y="226" width="1" height="469" fill="#fff" fill-opacity="0.024"/>
<rect x="237" y="226" width="1" height="469" fill="#fff" fill-opacity="0.028"/>
<rect x="238" y="226" width="1" height="469" fill="#000" fill-opacity="0.114"/>
<rect x="239" y="226" width="1" height="469" fill="#fff" fill-opacity="0.020"/>
<rect x="240" y="226" width="1" height="469" fill="#fff" fill-opacity="0.010"/>
<rect x="241" y="226" width="1" height="469" fill="#fff" fill-opacity="0.042"/>
<rect x="242" y="226" width="1" height="469" fill="#000" fill-opacity="0.038"/>
<rect x="243" y="226" width="1" height="469" fill="#fff" fill-opacity="0.004"/>
<rect x="244" y="226" width="1" height="469" fill="#fff" fill-opacity="0.030"/>
<rect x="245" y="226" width="1" height="469" fill="#fff" fill-opacity="0.105"/>
<rect x="246" y="226" width="1" height="469" fill="#fff" fill-opacity="0.140"/>
<rect x="247" y="226" width="1" height="469" fill="#fff" fill-opacity="0.105"/>
<rect x="248" y="226" width="1" height="469" fill="#000" fill-opacity="0.028"/>
<rect x="249" y="226" width="1" height="469" fill="#fff" fill-opacity="0.015"/>
<rect x="250" y="226" width="1" height="469" fill="#000" fill-opacity="0.060"/>
<rect x="251" y="226" width="1" height="469" fill="#fff" fill-opacity="0.098"/>
<rect x="252" y="226" width="1" height="469" fill="#fff" fill-opacity="0.131"/>
<rect x="253" y="226" width="1" height="469" fill="#fff" fill-opacity="0.098"/>
<rect x="254" y="226" width="1" height="469" fill="#000" fill-opacity="0.059"/>
<rect x="255" y="226" width="1" height="469" fill="#000" fill-opacity="0.024"/>
<rect x="256" y="226" width="1" height="469" fill="#000" fill-opacity="0.012"/>
<rect x="257" y="226" width="1" height="469" fill="#fff" fill-opacity="0.011"/>
<rect x="258" y="226" width="1" height="469" fill="#fff" fill-opacity="0.007"/>
<rect x="259" y="226" width="1" height="469" fill="#000" fill-opacity="0.018"/>
<rect x="260" y="226" width="1" height="469" fill="#fff" fill-opacity="0.084"/>
<rect x="261" y="226" width="1" height="469" fill="#fff" fill-opacity="0.084"/>
<rect x="262" y="226" width="1" height="469" fill="#000" fill-opacity="0.044"/>
<rect x="263" y="226" width="1" height="469" fill="#000" fill-opacity="0.046"/>
<rect x="264" y="226" width="1" height="469" fill="#000" fill-opacity="0.028"/>
<rect x="265" y="226" width="1" height="469" fill="#000" fill-opacity="0.048"/>
<rect x="266" y="226" width="1" height="469" fill="#000" fill-opacity="0.006"/>
<rect x="267" y="226" width="1" height="469" fill="#000" fill-opacity="0.027"/>
<rect x="268" y="226" width="1" height="469" fill="#fff" fill-opacity="0.005"/>
<rect x="270" y="226" width="1" height="469" fill="#fff" fill-opacity="0.119"/>
<rect x="271" y="226" width="1" height="469" fill="#fff" fill-opacity="0.159"/>
<rect x="272" y="226" width="1" height="469" fill="#fff" fill-opacity="0.159"/>
<rect x="273" y="226" width="1" height="469" fill="#fff" fill-opacity="0.119"/>
<rect x="275" y="226" width="1" height="469" fill="#fff" fill-opacity="0.017"/>
<rect x="276" y="226" width="1" height="469" fill="#fff" fill-opacity="0.027"/>
<rect x="277" y="226" width="1" height="469" fill="#fff" fill-opacity="0.004"/>
<rect x="278" y="226" width="1" height="469" fill="#fff" fill-opacity="0.084"/>
<rect x="279" y="226" width="1" height="469" fill="#fff" fill-opacity="0.084"/>
<rect x="281" y="226" width="1" height="469" fill="#000" fill-opacity="0.045"/>
<rect x="282" y="226" width="1" height="469" fill="#fff" fill-opacity="0.017"/>
<rect x="283" y="226" width="1" height="469" fill="#000" fill-opacity="0.019"/>
<rect x="284" y="226" width="1" height="469" fill="#000" fill-opacity="0.067"/>
<rect x="285" y="226" width="1" height="469" fill="#000" fill-opacity="0.008"/>
<rect x="286" y="226" width="1" height="469" fill="#fff" fill-opacity="0.056"/>
<rect x="287" y="226" width="1" height="469" fill="#fff" fill-opacity="0.056"/>
<rect x="288" y="226" width="1" height="469" fill="#000" fill-opacity="0.033"/>
<rect x="289" y="226" width="1" height="469" fill="#000" fill-opacity="0.015"/>
<rect x="290" y="226" width="1" height="469" fill="#000" fill-opacity="0.027"/>
<rect x="292" y="226" width="1" height="469" fill="#fff" fill-opacity="0.013"/>
<rect x="293" y="226" width="1" height="469" fill="#fff" fill-opacity="0.006"/>
<rect x="295" y="226" width="1" height="469" fill="#fff" fill-opacity="0.084"/>
<rect x="296" y="226" width="1" height="469" fill="#fff" fill-opacity="0.112"/>
<rect x="297" y="226" width="1" height="469" fill="#fff" fill-opacity="0.084"/>
<rect x="298" y="226" width="1" height="469" fill="#fff" fill-opacity="0.027"/>
<rect x="299" y="226" width="1" height="469" fill="#fff" fill-opacity="0.013"/>
<rect x="300" y="226" width="1" height="469" fill="#fff" fill-opacity="0.026"/>
<rect x="301" y="226" width="1" height="469" fill="#000" fill-opacity="0.042"/>
<rect x="302" y="226" width="1" height="469" fill="#fff" fill-opacity="0.027"/>
<rect x="303" y="226" width="1" height="469" fill="#000" fill-opacity="0.032"/>
<rect x="304" y="226" width="1" height="469" fill="#fff" fill-opacity="0.026"/>
<rect x="305" y="226" width="1" height="469" fill="#fff" fill-opacity="0.006"/>
<rect x="306" y="226" width="1" height="469" fill="#fff" fill-opacity="0.020"/>
<rect x="307" y="226" width="1" height="469" fill="#fff" fill-opacity="0.056"/>
<rect x="308" y="226" width="1" height="469" fill="#fff" fill-opacity="0.056"/>
<rect x="309" y="226" width="1" height="469" fill="#000" fill-opacity="0.083"/>
<rect x="310" y="226" width="1" height="469" fill="#fff" fill-opacity="0.009"/>
<rect x="311" y="226" width="1" height="469" fill="#fff" fill-opacity="0.017"/>
<rect x="312" y="226" width="1" height="469" fill="#fff" fill-opacity="0.009"/>
<rect x="313" y="226" width="1" height="469" fill="#fff" fill-opacity="0.027"/>
<rect x="314" y="226" width="1" height="469" fill="#fff" fill-opacity="0.015"/>
<rect x="315" y="226" width="1" height="469" fill="#fff" fill-opacity="0.004"/>
<rect x="316" y="226" width="1" height="469" fill="#fff" fill-opacity="0.014"/>
<rect x="317" y="226" width="1" height="469" fill="#000" fill-opacity="0.023"/>
<rect x="318" y="226" width="1" height="469" fill="#fff" fill-opacity="0.023"/>
<rect x="319" y="226" width="1" height="469" fill="#fff" fill-opacity="0.007"/>
<rect x="320" y="226" width="1" height="469" fill="#fff" fill-opacity="0.009"/>
<rect x="322" y="226" width="1" height="469" fill="#000" fill-opacity="0.024"/>
<rect x="323" y="226" width="1" height="469" fill="#000" fill-opacity="0.041"/>
<rect x="324" y="226" width="1" height="469" fill="#000" fill-opacity="0.010"/>
<rect x="325" y="226" width="1" height="469" fill="#fff" fill-opacity="0.018"/>
<rect x="326" y="226" width="1" height="469" fill="#fff" fill-opacity="0.140"/>
<rect x="327" y="226" width="1" height="469" fill="#fff" fill-opacity="0.140"/>
<rect x="328" y="226" width="1" height="469" fill="#fff" fill-opacity="0.084"/>
<rect x="329" y="226" width="1" height="469" fill="#fff" fill-opacity="0.007"/>
<rect x="331" y="226" width="1" height="469" fill="#fff" fill-opacity="0.011"/>
<rect x="332" y="226" width="1" height="469" fill="#fff" fill-opacity="0.093"/>
<rect x="333" y="226" width="1" height="469" fill="#fff" fill-opacity="0.093"/>
<rect x="334" y="226" width="1" height="469" fill="#fff" fill-opacity="0.006"/>
<rect x="335" y="226" width="1" height="469" fill="#000" fill-opacity="0.039"/>
<rect x="336" y="226" width="1" height="469" fill="#fff" fill-opacity="0.031"/>
<rect x="337" y="226" width="1" height="469" fill="#fff" fill-opacity="0.008"/>
<rect x="338" y="226" width="1" height="469" fill="#fff" fill-opacity="0.029"/>
<rect x="339" y="226" width="1" height="469" fill="#fff" fill-opacity="0.007"/>
<rect x="340" y="226" width="1" height="469" fill="#fff" fill-opacity="0.028"/>
<rect x="341" y="226" width="1" height="469" fill="#fff" fill-opacity="0.004"/>
<rect x="342" y="226" width="1" height="469" fill="#fff" fill-opacity="0.074"/>
<rect x="343" y="226" width="1" height="469" fill="#fff" fill-opacity="0.030"/>
<rect x="344" y="226" width="1" height="469" fill="#fff" fill-opacity="0.034"/>
<rect x="346" y="226" width="1" height="469" fill="#000" fill-opacity="0.062"/>
<rect x="347" y="226" width="1" height="469" fill="#000" fill-opacity="0.007"/>
<rect x="348" y="226" width="1" height="469" fill="#fff" fill-opacity="0.016"/>
<rect x="349" y="226" width="1" height="469" fill="#fff" fill-opacity="0.007"/>
<rect x="350" y="226" width="1" height="469" fill="#000" fill-opacity="0.018"/>
<rect x="351" y="226" width="1" height="469" fill="#000" fill-opacity="0.027"/>
<rect x="352" y="226" width="1" height="469" fill="#fff" fill-opacity="0.070"/>
<rect x="353" y="226" width="1" height="469" fill="#fff" fill-opacity="0.093"/>
<rect x="354" y="226" width="1" height="469" fill="#fff" fill-opacity="0.093"/>
<rect x="355" y="226" width="1" height="469" fill="#fff" fill-opacity="0.070"/>
<rect x="356" y="226" width="1" height="469" fill="#fff" fill-opacity="0.018"/>
<rect x="358" y="226" width="1" height="469" fill="#fff" fill-opacity="0.007"/>
<rect x="360" y="226" width="1" height="469" fill="#fff" fill-opacity="0.013"/>
<rect x="361" y="226" width="1" height="469" fill="#fff" fill-opacity="0.009"/>
<rect x="362" y="226" width="1" height="469" fill="#fff" fill-opacity="0.017"/>
<rect x="365" y="226" width="1" height="469" fill="#fff" fill-opacity="0.065"/>
<rect x="366" y="226" width="1" height="469" fill="#fff" fill-opacity="0.065"/>
<rect x="367" y="226" width="1" height="469" fill="#000" fill-opacity="0.091"/>
<rect x="368" y="226" width="1" height="469" fill="#fff" fill-opacity="0.010"/>
<rect x="369" y="226" width="1" height="469" fill="#fff" fill-opacity="0.010"/>
<rect x="370" y="226" width="1" height="469" fill="#fff" fill-opacity="0.021"/>
<rect x="371" y="226" width="1" height="469" fill="#000" fill-opacity="0.094"/>
<rect x="372" y="226" width="1" height="469" fill="#000" fill-opacity="0.074"/>
<rect x="373" y="226" width="1" height="469" fill="#000" fill-opacity="0.018"/>
<rect x="375" y="226" width="1" height="469" fill="#fff" fill-opacity="0.063"/>
<rect x="376" y="226" width="1" height="469" fill="#fff" fill-opacity="0.084"/>
<rect x="377" y="226" width="1" height="469" fill="#fff" fill-opacity="0.084"/>
<rect x="378" y="226" width="1" height="469" fill="#fff" fill-opacity="0.063"/>
<rect x="379" y="226" width="1" height="469" fill="#fff" fill-opacity="0.019"/>
<rect x="380" y="226" width="1" height="469" fill="#000" fill-opacity="0.053"/>
<rect x="381" y="226" width="1" height="469" fill="#000" fill-opacity="0.008"/>
<rect x="382" y="226" width="1" height="469" fill="#000" fill-opacity="0.105"/>
<rect x="383" y="226" width="1" height="469" fill="#fff" fill-opacity="0.022"/>
<rect x="384" y="226" width="1" height="469" fill="#fff" fill-opacity="0.075"/>
<rect x="385" y="226" width="1" height="469" fill="#fff" fill-opacity="0.075"/>
<rect x="386" y="226" width="1" height="469" fill="#000" fill-opacity="0.046"/>
<rect x="388" y="226" width="1" height="469" fill="#fff" fill-opacity="0.021"/>
<rect x="389" y="226" width="1" height="469" fill="#000" fill-opacity="0.056"/>
<rect x="390" y="226" width="1" height="469" fill="#fff" fill-opacity="0.112"/>
<rect x="391" y="226" width="1" height="469" fill="#fff" fill-opacity="0.149"/>
<rect x="392" y="226" width="1" height="469" fill="#fff" fill-opacity="0.112"/>
<rect x="393" y="226" width="1" height="469" fill="#000" fill-opacity="0.026"/>
<rect x="394" y="226" width="1" height="469" fill="#fff" fill-opacity="0.027"/>
<rect x="395" y="226" width="1" height="469" fill="#fff" fill-opacity="0.017"/>
<rect x="396" y="226" width="1" height="469" fill="#fff" fill-opacity="0.032"/>
<rect x="397" y="226" width="1" height="469" fill="#fff" fill-opacity="0.006"/>
<rect x="398" y="226" width="1" height="469" fill="#fff" fill-opacity="0.119"/>
<rect x="399" y="226" width="1" height="469" fill="#fff" fill-opacity="0.159"/>
<rect x="400" y="226" width="1" height="469" fill="#fff" fill-opacity="0.159"/>
<rect x="401" y="226" width="1" height="469" fill="#fff" fill-opacity="0.159"/>
<rect x="402" y="226" width="1" height="469" fill="#fff" fill-opacity="0.119"/>
<rect x="403" y="226" width="1" height="469" fill="#fff" fill-opacity="0.035"/>
<rect x="404" y="226" width="1" height="469" fill="#fff" fill-opacity="0.004"/>
<rect x="405" y="226" width="1" height="469" fill="#fff" fill-opacity="0.043"/>
<rect x="406" y="226" width="1" height="469" fill="#000" fill-opacity="0.058"/>
<rect x="407" y="226" width="1" height="469" fill="#000" fill-opacity="0.007"/>
<rect x="408" y="226" width="1" height="469" fill="#fff" fill-opacity="0.119"/>
<rect x="409" y="226" width="1" height="469" fill="#fff" fill-opacity="0.159"/>
<rect x="410" y="226" width="1" height="469" fill="#fff" fill-opacity="0.119"/>
<rect x="411" y="226" width="1" height="469" fill="#000" fill-opacity="0.014"/>
<rect x="412" y="226" width="5" height="469" fill="#fff" fill-opacity="0.003"/>
</g>
<rect x="300" y="470" width="117" height="202" fill="url(#hz)" mask="url(#hm)"/>
</g></g><g mask="url(#bm)"><use href="#vals" filter="url(#jet2)"/></g></g>
<g class="k">
<rect x="101" y="76" width="720" height="3"/>
<rect x="101" y="76" width="3" height="154"/>
<rect x="818" y="76" width="3" height="617"/>
<rect x="101" y="152" width="720" height="4"/>
<rect x="101" y="228" width="720" height="2"/>
<rect x="97" y="691" width="724" height="2"/>
<rect x="818" y="229" width="80" height="3"/>
<rect x="895" y="229" width="3" height="464"/>
<rect x="818" y="690" width="80" height="3"/>
<rect x="115" y="79" width="3" height="3"/>
<rect x="115" y="149" width="3" height="3"/>
<rect x="115" y="156" width="3" height="3"/>
<rect x="115" y="225" width="3" height="3"/>
<rect x="115" y="693" width="3" height="3"/>
<rect x="130" y="79" width="3" height="3"/>
<rect x="130" y="149" width="3" height="3"/>
<rect x="130" y="156" width="3" height="3"/>
<rect x="130" y="225" width="3" height="3"/>
<rect x="130" y="693" width="3" height="3"/>
<rect x="145" y="79" width="3" height="3"/>
<rect x="145" y="149" width="3" height="3"/>
<rect x="145" y="156" width="3" height="3"/>
<rect x="145" y="225" width="3" height="3"/>
<rect x="145" y="693" width="3" height="3"/>
<rect x="160" y="79" width="3" height="7"/>
<rect x="160" y="145" width="3" height="7"/>
<rect x="160" y="156" width="3" height="7"/>
<rect x="160" y="221" width="3" height="7"/>
<rect x="160" y="693" width="3" height="7"/>
<rect x="175" y="79" width="3" height="3"/>
<rect x="175" y="149" width="3" height="3"/>
<rect x="175" y="156" width="3" height="3"/>
<rect x="175" y="225" width="3" height="3"/>
<rect x="175" y="693" width="3" height="3"/>
<rect x="190" y="79" width="3" height="3"/>
<rect x="190" y="149" width="3" height="3"/>
<rect x="190" y="156" width="3" height="3"/>
<rect x="190" y="225" width="3" height="3"/>
<rect x="190" y="693" width="3" height="3"/>
<rect x="205" y="79" width="3" height="3"/>
<rect x="205" y="149" width="3" height="3"/>
<rect x="205" y="156" width="3" height="3"/>
<rect x="205" y="225" width="3" height="3"/>
<rect x="205" y="693" width="3" height="3"/>
<rect x="220" y="79" width="3" height="7"/>
<rect x="220" y="145" width="3" height="7"/>
<rect x="220" y="156" width="3" height="7"/>
<rect x="220" y="221" width="3" height="7"/>
<rect x="220" y="693" width="3" height="7"/>
<rect x="235" y="79" width="3" height="3"/>
<rect x="235" y="149" width="3" height="3"/>
<rect x="235" y="156" width="3" height="3"/>
<rect x="235" y="225" width="3" height="3"/>
<rect x="235" y="693" width="3" height="3"/>
<rect x="250" y="79" width="3" height="3"/>
<rect x="250" y="149" width="3" height="3"/>
<rect x="250" y="156" width="3" height="3"/>
<rect x="250" y="225" width="3" height="3"/>
<rect x="250" y="693" width="3" height="3"/>
<rect x="265" y="79" width="3" height="3"/>
<rect x="265" y="149" width="3" height="3"/>
<rect x="265" y="156" width="3" height="3"/>
<rect x="265" y="225" width="3" height="3"/>
<rect x="265" y="693" width="3" height="3"/>
<rect x="280" y="79" width="3" height="7"/>
<rect x="280" y="145" width="3" height="7"/>
<rect x="280" y="156" width="3" height="7"/>
<rect x="280" y="221" width="3" height="7"/>
<rect x="280" y="693" width="3" height="7"/>
<rect x="295" y="79" width="3" height="3"/>
<rect x="295" y="149" width="3" height="3"/>
<rect x="295" y="156" width="3" height="3"/>
<rect x="295" y="225" width="3" height="3"/>
<rect x="295" y="693" width="3" height="3"/>
<rect x="310" y="79" width="3" height="3"/>
<rect x="310" y="149" width="3" height="3"/>
<rect x="310" y="156" width="3" height="3"/>
<rect x="310" y="225" width="3" height="3"/>
<rect x="310" y="693" width="3" height="3"/>
<rect x="324" y="79" width="3" height="3"/>
<rect x="324" y="149" width="3" height="3"/>
<rect x="324" y="156" width="3" height="3"/>
<rect x="324" y="225" width="3" height="3"/>
<rect x="324" y="693" width="3" height="3"/>
<rect x="339" y="79" width="3" height="7"/>
<rect x="339" y="145" width="3" height="7"/>
<rect x="339" y="156" width="3" height="7"/>
<rect x="339" y="221" width="3" height="7"/>
<rect x="339" y="693" width="3" height="7"/>
<rect x="354" y="79" width="3" height="3"/>
<rect x="354" y="149" width="3" height="3"/>
<rect x="354" y="156" width="3" height="3"/>
<rect x="354" y="225" width="3" height="3"/>
<rect x="354" y="693" width="3" height="3"/>
<rect x="369" y="79" width="3" height="3"/>
<rect x="369" y="149" width="3" height="3"/>
<rect x="369" y="156" width="3" height="3"/>
<rect x="369" y="225" width="3" height="3"/>
<rect x="369" y="693" width="3" height="3"/>
<rect x="384" y="79" width="3" height="3"/>
<rect x="384" y="149" width="3" height="3"/>
<rect x="384" y="156" width="3" height="3"/>
<rect x="384" y="225" width="3" height="3"/>
<rect x="384" y="693" width="3" height="3"/>
<rect x="399" y="79" width="3" height="7"/>
<rect x="399" y="145" width="3" height="7"/>
<rect x="399" y="156" width="3" height="7"/>
<rect x="399" y="221" width="3" height="7"/>
<rect x="399" y="693" width="3" height="7"/>
<rect x="414" y="79" width="3" height="3"/>
<rect x="414" y="149" width="3" height="3"/>
<rect x="414" y="156" width="3" height="3"/>
<rect x="414" y="225" width="3" height="3"/>
<rect x="414" y="693" width="3" height="3"/>
<rect x="429" y="79" width="3" height="3"/>
<rect x="429" y="149" width="3" height="3"/>
<rect x="429" y="156" width="3" height="3"/>
<rect x="429" y="225" width="3" height="3"/>
<rect x="429" y="693" width="3" height="3"/>
<rect x="444" y="79" width="3" height="3"/>
<rect x="444" y="149" width="3" height="3"/>
<rect x="444" y="156" width="3" height="3"/>
<rect x="444" y="225" width="3" height="3"/>
<rect x="444" y="693" width="3" height="3"/>
<rect x="459" y="79" width="3" height="7"/>
<rect x="459" y="145" width="3" height="7"/>
<rect x="459" y="156" width="3" height="7"/>
<rect x="459" y="221" width="3" height="7"/>
<rect x="459" y="693" width="3" height="7"/>
<rect x="474" y="79" width="3" height="3"/>
<rect x="474" y="149" width="3" height="3"/>
<rect x="474" y="156" width="3" height="3"/>
<rect x="474" y="225" width="3" height="3"/>
<rect x="474" y="693" width="3" height="3"/>
<rect x="489" y="79" width="3" height="3"/>
<rect x="489" y="149" width="3" height="3"/>
<rect x="489" y="156" width="3" height="3"/>
<rect x="489" y="225" width="3" height="3"/>
<rect x="489" y="693" width="3" height="3"/>
<rect x="504" y="79" width="3" height="3"/>
<rect x="504" y="149" width="3" height="3"/>
<rect x="504" y="156" width="3" height="3"/>
<rect x="504" y="225" width="3" height="3"/>
<rect x="504" y="693" width="3" height="3"/>
<rect x="519" y="79" width="3" height="7"/>
<rect x="519" y="145" width="3" height="7"/>
<rect x="519" y="156" width="3" height="7"/>
<rect x="519" y="221" width="3" height="7"/>
<rect x="519" y="693" width="3" height="7"/>
<rect x="534" y="79" width="3" height="3"/>
<rect x="534" y="149" width="3" height="3"/>
<rect x="534" y="156" width="3" height="3"/>
<rect x="534" y="225" width="3" height="3"/>
<rect x="534" y="693" width="3" height="3"/>
<rect x="549" y="79" width="3" height="3"/>
<rect x="549" y="149" width="3" height="3"/>
<rect x="549" y="156" width="3" height="3"/>
<rect x="549" y="225" width="3" height="3"/>
<rect x="549" y="693" width="3" height="3"/>
<rect x="564" y="79" width="3" height="3"/>
<rect x="564" y="149" width="3" height="3"/>
<rect x="564" y="156" width="3" height="3"/>
<rect x="564" y="225" width="3" height="3"/>
<rect x="564" y="693" width="3" height="3"/>
<rect x="579" y="79" width="3" height="7"/>
<rect x="579" y="145" width="3" height="7"/>
<rect x="579" y="156" width="3" height="7"/>
<rect x="579" y="221" width="3" height="7"/>
<rect x="579" y="693" width="3" height="7"/>
<rect x="594" y="79" width="3" height="3"/>
<rect x="594" y="149" width="3" height="3"/>
<rect x="594" y="156" width="3" height="3"/>
<rect x="594" y="225" width="3" height="3"/>
<rect x="594" y="693" width="3" height="3"/>
<rect x="609" y="79" width="3" height="3"/>
<rect x="609" y="149" width="3" height="3"/>
<rect x="609" y="156" width="3" height="3"/>
<rect x="609" y="225" width="3" height="3"/>
<rect x="609" y="693" width="3" height="3"/>
<rect x="624" y="79" width="3" height="3"/>
<rect x="624" y="149" width="3" height="3"/>
<rect x="624" y="156" width="3" height="3"/>
<rect x="624" y="225" width="3" height="3"/>
<rect x="624" y="693" width="3" height="3"/>
<rect x="639" y="79" width="3" height="7"/>
<rect x="639" y="145" width="3" height="7"/>
<rect x="639" y="156" width="3" height="7"/>
<rect x="639" y="221" width="3" height="7"/>
<rect x="639" y="693" width="3" height="7"/>
<rect x="654" y="79" width="3" height="3"/>
<rect x="654" y="149" width="3" height="3"/>
<rect x="654" y="156" width="3" height="3"/>
<rect x="654" y="225" width="3" height="3"/>
<rect x="654" y="693" width="3" height="3"/>
<rect x="669" y="79" width="3" height="3"/>
<rect x="669" y="149" width="3" height="3"/>
<rect x="669" y="156" width="3" height="3"/>
<rect x="669" y="225" width="3" height="3"/>
<rect x="669" y="693" width="3" height="3"/>
<rect x="684" y="79" width="3" height="3"/>
<rect x="684" y="149" width="3" height="3"/>
<rect x="684" y="156" width="3" height="3"/>
<rect x="684" y="225" width="3" height="3"/>
<rect x="684" y="693" width="3" height="3"/>
<rect x="699" y="79" width="3" height="7"/>
<rect x="699" y="145" width="3" height="7"/>
<rect x="699" y="156" width="3" height="7"/>
<rect x="699" y="221" width="3" height="7"/>
<rect x="699" y="693" width="3" height="7"/>
<rect x="713" y="79" width="3" height="3"/>
<rect x="713" y="149" width="3" height="3"/>
<rect x="713" y="156" width="3" height="3"/>
<rect x="713" y="225" width="3" height="3"/>
<rect x="713" y="693" width="3" height="3"/>
<rect x="728" y="79" width="3" height="3"/>
<rect x="728" y="149" width="3" height="3"/>
<rect x="728" y="156" width="3" height="3"/>
<rect x="728" y="225" width="3" height="3"/>
<rect x="728" y="693" width="3" height="3"/>
<rect x="743" y="79" width="3" height="3"/>
<rect x="743" y="149" width="3" height="3"/>
<rect x="743" y="156" width="3" height="3"/>
<rect x="743" y="225" width="3" height="3"/>
<rect x="743" y="693" width="3" height="3"/>
<rect x="758" y="79" width="3" height="7"/>
<rect x="758" y="145" width="3" height="7"/>
<rect x="758" y="156" width="3" height="7"/>
<rect x="758" y="221" width="3" height="7"/>
<rect x="758" y="693" width="3" height="7"/>
<rect x="773" y="79" width="3" height="3"/>
<rect x="773" y="149" width="3" height="3"/>
<rect x="773" y="156" width="3" height="3"/>
<rect x="773" y="225" width="3" height="3"/>
<rect x="773" y="693" width="3" height="3"/>
<rect x="788" y="79" width="3" height="3"/>
<rect x="788" y="149" width="3" height="3"/>
<rect x="788" y="156" width="3" height="3"/>
<rect x="788" y="225" width="3" height="3"/>
<rect x="788" y="693" width="3" height="3"/>
<rect x="803" y="79" width="3" height="3"/>
<rect x="803" y="149" width="3" height="3"/>
<rect x="803" y="156" width="3" height="3"/>
<rect x="803" y="225" width="3" height="3"/>
<rect x="803" y="693" width="3" height="3"/>
<rect x="817" y="693" width="3" height="7"/>
<rect x="97" y="689" width="5" height="3"/>
<rect x="97" y="683" width="5" height="3"/>
<rect x="821" y="683" width="2" height="3"/>
<rect x="893" y="683" width="2" height="3"/>
<rect x="97" y="678" width="5" height="3"/>
<rect x="821" y="678" width="2" height="3"/>
<rect x="893" y="678" width="2" height="3"/>
<rect x="97" y="672" width="5" height="3"/>
<rect x="821" y="672" width="2" height="3"/>
<rect x="893" y="672" width="2" height="3"/>
<rect x="93" y="666" width="9" height="3"/>
<rect x="821" y="666" width="4" height="3"/>
<rect x="891" y="666" width="4" height="3"/>
<rect x="97" y="660" width="5" height="3"/>
<rect x="821" y="660" width="2" height="3"/>
<rect x="893" y="660" width="2" height="3"/>
<rect x="97" y="655" width="5" height="3"/>
<rect x="821" y="655" width="2" height="3"/>
<rect x="893" y="655" width="2" height="3"/>
<rect x="97" y="649" width="5" height="3"/>
<rect x="821" y="649" width="2" height="3"/>
<rect x="893" y="649" width="2" height="3"/>
<rect x="97" y="643" width="5" height="3"/>
<rect x="821" y="643" width="2" height="3"/>
<rect x="893" y="643" width="2" height="3"/>
<rect x="97" y="637" width="5" height="3"/>
<rect x="821" y="637" width="2" height="3"/>
<rect x="893" y="637" width="2" height="3"/>
<rect x="97" y="632" width="5" height="3"/>
<rect x="821" y="632" width="2" height="3"/>
<rect x="893" y="632" width="2" height="3"/>
<rect x="97" y="626" width="5" height="3"/>
<rect x="821" y="626" width="2" height="3"/>
<rect x="893" y="626" width="2" height="3"/>
<rect x="93" y="620" width="9" height="3"/>
<rect x="821" y="620" width="4" height="3"/>
<rect x="891" y="620" width="4" height="3"/>
<rect x="97" y="614" width="5" height="3"/>
<rect x="821" y="614" width="2" height="3"/>
<rect x="893" y="614" width="2" height="3"/>
<rect x="97" y="609" width="5" height="3"/>
<rect x="821" y="609" width="2" height="3"/>
<rect x="893" y="609" width="2" height="3"/>
<rect x="97" y="603" width="5" height="3"/>
<rect x="821" y="603" width="2" height="3"/>
<rect x="893" y="603" width="2" height="3"/>
<rect x="97" y="597" width="5" height="3"/>
<rect x="821" y="597" width="2" height="3"/>
<rect x="893" y="597" width="2" height="3"/>
<rect x="97" y="591" width="5" height="3"/>
<rect x="821" y="591" width="2" height="3"/>
<rect x="893" y="591" width="2" height="3"/>
<rect x="97" y="586" width="5" height="3"/>
<rect x="821" y="586" width="2" height="3"/>
<rect x="893" y="586" width="2" height="3"/>
<rect x="97" y="580" width="5" height="3"/>
<rect x="821" y="580" width="2" height="3"/>
<rect x="893" y="580" width="2" height="3"/>
<rect x="93" y="574" width="9" height="3"/>
<rect x="821" y="574" width="4" height="3"/>
<rect x="891" y="574" width="4" height="3"/>
<rect x="97" y="568" width="5" height="3"/>
<rect x="821" y="568" width="2" height="3"/>
<rect x="893" y="568" width="2" height="3"/>
<rect x="97" y="563" width="5" height="3"/>
<rect x="821" y="563" width="2" height="3"/>
<rect x="893" y="563" width="2" height="3"/>
<rect x="97" y="557" width="5" height="3"/>
<rect x="821" y="557" width="2" height="3"/>
<rect x="893" y="557" width="2" height="3"/>
<rect x="97" y="551" width="5" height="3"/>
<rect x="821" y="551" width="2" height="3"/>
<rect x="893" y="551" width="2" height="3"/>
<rect x="97" y="545" width="5" height="3"/>
<rect x="821" y="545" width="2" height="3"/>
<rect x="893" y="545" width="2" height="3"/>
<rect x="97" y="540" width="5" height="3"/>
<rect x="821" y="540" width="2" height="3"/>
<rect x="893" y="540" width="2" height="3"/>
<rect x="97" y="534" width="5" height="3"/>
<rect x="821" y="534" width="2" height="3"/>
<rect x="893" y="534" width="2" height="3"/>
<rect x="93" y="528" width="9" height="3"/>
<rect x="821" y="528" width="4" height="3"/>
<rect x="891" y="528" width="4" height="3"/>
<rect x="97" y="522" width="5" height="3"/>
<rect x="821" y="522" width="2" height="3"/>
<rect x="893" y="522" width="2" height="3"/>
<rect x="97" y="517" width="5" height="3"/>
<rect x="821" y="517" width="2" height="3"/>
<rect x="893" y="517" width="2" height="3"/>
<rect x="97" y="511" width="5" height="3"/>
<rect x="821" y="511" width="2" height="3"/>
<rect x="893" y="511" width="2" height="3"/>
<rect x="97" y="505" width="5" height="3"/>
<rect x="821" y="505" width="2" height="3"/>
<rect x="893" y="505" width="2" height="3"/>
<rect x="97" y="499" width="5" height="3"/>
<rect x="821" y="499" width="2" height="3"/>
<rect x="893" y="499" width="2" height="3"/>
<rect x="97" y="494" width="5" height="3"/>
<rect x="821" y="494" width="2" height="3"/>
<rect x="893" y="494" width="2" height="3"/>
<rect x="97" y="488" width="5" height="3"/>
<rect x="821" y="488" width="2" height="3"/>
<rect x="893" y="488" width="2" height="3"/>
<rect x="93" y="482" width="9" height="3"/>
<rect x="821" y="482" width="4" height="3"/>
<rect x="891" y="482" width="4" height="3"/>
<rect x="97" y="476" width="5" height="3"/>
<rect x="821" y="476" width="2" height="3"/>
<rect x="893" y="476" width="2" height="3"/>
<rect x="97" y="471" width="5" height="3"/>
<rect x="821" y="471" width="2" height="3"/>
<rect x="893" y="471" width="2" height="3"/>
<rect x="97" y="465" width="5" height="3"/>
<rect x="821" y="465" width="2" height="3"/>
<rect x="893" y="465" width="2" height="3"/>
<rect x="97" y="459" width="5" height="3"/>
<rect x="821" y="459" width="2" height="3"/>
<rect x="893" y="459" width="2" height="3"/>
<rect x="97" y="453" width="5" height="3"/>
<rect x="821" y="453" width="2" height="3"/>
<rect x="893" y="453" width="2" height="3"/>
<rect x="97" y="447" width="5" height="3"/>
<rect x="821" y="447" width="2" height="3"/>
<rect x="893" y="447" width="2" height="3"/>
<rect x="97" y="442" width="5" height="3"/>
<rect x="821" y="442" width="2" height="3"/>
<rect x="893" y="442" width="2" height="3"/>
<rect x="93" y="436" width="9" height="3"/>
<rect x="821" y="436" width="4" height="3"/>
<rect x="891" y="436" width="4" height="3"/>
<rect x="97" y="430" width="5" height="3"/>
<rect x="821" y="430" width="2" height="3"/>
<rect x="893" y="430" width="2" height="3"/>
<rect x="97" y="424" width="5" height="3"/>
<rect x="821" y="424" width="2" height="3"/>
<rect x="893" y="424" width="2" height="3"/>
<rect x="97" y="419" width="5" height="3"/>
<rect x="821" y="419" width="2" height="3"/>
<rect x="893" y="419" width="2" height="3"/>
<rect x="97" y="413" width="5" height="3"/>
<rect x="821" y="413" width="2" height="3"/>
<rect x="893" y="413" width="2" height="3"/>
<rect x="97" y="407" width="5" height="3"/>
<rect x="821" y="407" width="2" height="3"/>
<rect x="893" y="407" width="2" height="3"/>
<rect x="97" y="401" width="5" height="3"/>
<rect x="821" y="401" width="2" height="3"/>
<rect x="893" y="401" width="2" height="3"/>
<rect x="97" y="396" width="5" height="3"/>
<rect x="821" y="396" width="2" height="3"/>
<rect x="893" y="396" width="2" height="3"/>
<rect x="93" y="390" width="9" height="3"/>
<rect x="821" y="390" width="4" height="3"/>
<rect x="891" y="390" width="4" height="3"/>
<rect x="97" y="384" width="5" height="3"/>
<rect x="821" y="384" width="2" height="3"/>
<rect x="893" y="384" width="2" height="3"/>
<rect x="97" y="378" width="5" height="3"/>
<rect x="821" y="378" width="2" height="3"/>
<rect x="893" y="378" width="2" height="3"/>
<rect x="97" y="373" width="5" height="3"/>
<rect x="821" y="373" width="2" height="3"/>
<rect x="893" y="373" width="2" height="3"/>
<rect x="97" y="367" width="5" height="3"/>
<rect x="821" y="367" width="2" height="3"/>
<rect x="893" y="367" width="2" height="3"/>
<rect x="97" y="361" width="5" height="3"/>
<rect x="821" y="361" width="2" height="3"/>
<rect x="893" y="361" width="2" height="3"/>
<rect x="97" y="355" width="5" height="3"/>
<rect x="821" y="355" width="2" height="3"/>
<rect x="893" y="355" width="2" height="3"/>
<rect x="97" y="350" width="5" height="3"/>
<rect x="821" y="350" width="2" height="3"/>
<rect x="893" y="350" width="2" height="3"/>
<rect x="93" y="344" width="9" height="3"/>
<rect x="821" y="344" width="4" height="3"/>
<rect x="891" y="344" width="4" height="3"/>
<rect x="97" y="338" width="5" height="3"/>
<rect x="821" y="338" width="2" height="3"/>
<rect x="893" y="338" width="2" height="3"/>
<rect x="97" y="332" width="5" height="3"/>
<rect x="821" y="332" width="2" height="3"/>
<rect x="893" y="332" width="2" height="3"/>
<rect x="97" y="327" width="5" height="3"/>
<rect x="821" y="327" width="2" height="3"/>
<rect x="893" y="327" width="2" height="3"/>
<rect x="97" y="321" width="5" height="3"/>
<rect x="821" y="321" width="2" height="3"/>
<rect x="893" y="321" width="2" height="3"/>
<rect x="97" y="315" width="5" height="3"/>
<rect x="821" y="315" width="2" height="3"/>
<rect x="893" y="315" width="2" height="3"/>
<rect x="97" y="309" width="5" height="3"/>
<rect x="821" y="309" width="2" height="3"/>
<rect x="893" y="309" width="2" height="3"/>
<rect x="97" y="304" width="5" height="3"/>
<rect x="821" y="304" width="2" height="3"/>
<rect x="893" y="304" width="2" height="3"/>
<rect x="93" y="298" width="9" height="3"/>
<rect x="821" y="298" width="4" height="3"/>
<rect x="891" y="298" width="4" height="3"/>
<rect x="97" y="292" width="5" height="3"/>
<rect x="821" y="292" width="2" height="3"/>
<rect x="893" y="292" width="2" height="3"/>
<rect x="97" y="286" width="5" height="3"/>
<rect x="821" y="286" width="2" height="3"/>
<rect x="893" y="286" width="2" height="3"/>
<rect x="97" y="281" width="5" height="3"/>
<rect x="821" y="281" width="2" height="3"/>
<rect x="893" y="281" width="2" height="3"/>
<rect x="97" y="275" width="5" height="3"/>
<rect x="821" y="275" width="2" height="3"/>
<rect x="893" y="275" width="2" height="3"/>
<rect x="97" y="269" width="5" height="3"/>
<rect x="821" y="269" width="2" height="3"/>
<rect x="893" y="269" width="2" height="3"/>
<rect x="97" y="263" width="5" height="3"/>
<rect x="821" y="263" width="2" height="3"/>
<rect x="893" y="263" width="2" height="3"/>
<rect x="97" y="258" width="5" height="3"/>
<rect x="821" y="258" width="2" height="3"/>
<rect x="893" y="258" width="2" height="3"/>
<rect x="93" y="252" width="9" height="3"/>
<rect x="821" y="252" width="4" height="3"/>
<rect x="891" y="252" width="4" height="3"/>
<rect x="97" y="246" width="5" height="3"/>
<rect x="821" y="246" width="2" height="3"/>
<rect x="893" y="246" width="2" height="3"/>
<rect x="97" y="240" width="5" height="3"/>
<rect x="821" y="240" width="2" height="3"/>
<rect x="893" y="240" width="2" height="3"/>
<rect x="97" y="235" width="5" height="3"/>
<rect x="821" y="235" width="2" height="3"/>
<rect x="893" y="235" width="2" height="3"/>
<rect x="97" y="229" width="5" height="3"/>
</g>
<text class="tl" x="161.2" y="717.9" text-anchor="middle">2</text>
<text class="tl" x="221.1" y="717.9" text-anchor="middle">4</text>
<text class="tl" x="280.9" y="717.9" text-anchor="middle">6</text>
<text class="tl" x="340.8" y="717.9" text-anchor="middle">8</text>
<text class="tl" x="400.6" y="717.9" text-anchor="middle">10</text>
<text class="tl" x="460.4" y="717.9" text-anchor="middle">12</text>
<text class="tl" x="520.3" y="717.9" text-anchor="middle">14</text>
<text class="tl" x="580.1" y="717.9" text-anchor="middle">16</text>
<text class="tl" x="640.0" y="717.9" text-anchor="middle">18</text>
<text class="tl" x="699.8" y="717.9" text-anchor="middle">20</text>
<text class="tl" x="759.6" y="717.9" text-anchor="middle">22</text>
<text class="tl" x="819.5" y="717.9" text-anchor="middle">24</text>
<text class="tl" x="88.3" y="672.9" text-anchor="end">2</text>
<text class="tl" x="88.3" y="626.8" text-anchor="end">6</text>
<text class="tl" x="88.3" y="580.8" text-anchor="end">10</text>
<text class="tl" x="88.3" y="534.8" text-anchor="end">14</text>
<text class="tl" x="88.3" y="488.7" text-anchor="end">18</text>
<text class="tl" x="88.3" y="442.7" text-anchor="end">22</text>
<text class="tl" x="88.3" y="396.6" text-anchor="end">26</text>
<text class="tl" x="88.3" y="350.6" text-anchor="end">30</text>
<text class="tl" x="88.3" y="304.6" text-anchor="end">34</text>
<text class="tl" x="88.3" y="258.5" text-anchor="end">38</text>
<text x="463.5" y="738.7" text-anchor="middle" font-size="16px" fill="#111">Tiempo (horas) - UTC</text>
<text transform="translate(44.7,460.3) rotate(-90)" text-anchor="middle" font-size="16px" fill="#111" xml:space="preserve">Frecuencia  (Hz)</text>
<text x="858" y="210.8" text-anchor="middle" font-size="10.5px" font-weight="bold" fill="#111">PSD</text>
<text x="858" y="224.7" text-anchor="middle" font-size="10.5px" font-weight="bold" fill="#111">Normalizado</text>
<rect x="930" y="231" width="9" height="460" fill="url(#cb)"/>
<text class="cl" x="934.5" y="222.8" text-anchor="middle">dB</text>
<text class="cl" x="945" y="694.8">2</text>
<text class="cl" x="945" y="624.0">4</text>
<rect x="936" y="619.7" width="3" height="1" fill="#222" fill-opacity="0.6"/>
<text class="cl" x="945" y="553.3">6</text>
<rect x="936" y="549.0" width="3" height="1" fill="#222" fill-opacity="0.6"/>
<text class="cl" x="945" y="482.5">8</text>
<rect x="936" y="478.2" width="3" height="1" fill="#222" fill-opacity="0.6"/>
<text class="cl" x="945" y="411.8">10</text>
<rect x="936" y="407.5" width="3" height="1" fill="#222" fill-opacity="0.6"/>
<text class="cl" x="945" y="341.0">12</text>
<rect x="936" y="336.7" width="3" height="1" fill="#222" fill-opacity="0.6"/>
<text class="cl" x="945" y="270.2">14</text>
<rect x="936" y="265.9" width="3" height="1" fill="#222" fill-opacity="0.6"/>
<rect x="145" y="89" width="3" height="7" fill="#e60000"/>
<rect x="145" y="166" width="3" height="7" fill="#e60000"/>
<text class="gl" x="153" y="96.5">3000 nm/s</text>
<text class="gl" x="153" y="173.5">100 nm/s</text>
<text class="gl" x="729" y="96.5">[0.1 40] Hz</text>
<text class="gl" x="729" y="173.5">[4 15] Hz</text>
<path d="M103.5,111.1V121.4M104.5,111.2V121.1M105.5,111.1V119.8M106.5,111.0V120.0M107.5,110.8V121.8M108.5,111.2V120.0M109.5,111.1V120.0M110.5,110.1V120.2M111.5,111.0V120.3M112.5,110.8V119.8M113.5,111.3V120.5M114.5,111.2V120.2M115.5,110.4V120.2M116.5,110.4V119.9M117.5,110.9V120.1M118.5,110.7V120.0M119.5,108.8V119.8M120.5,110.2V119.7M121.5,111.2V119.8M122.5,111.1V119.8M123.5,111.3V121.5M124.5,110.1V120.1M125.5,111.2V120.3M126.5,111.0V119.8M127.5,111.2V120.4M128.5,110.7V119.7M129.5,110.4V120.0M130.5,111.2V119.9M131.5,110.5V120.5M132.5,109.9V120.2M133.5,110.4V120.2M134.5,109.0V120.0M135.5,111.0V120.1M136.5,110.5V120.5M137.5,111.0V119.7M138.5,111.2V122.8M139.5,111.0V121.1M140.5,110.1V119.9M141.5,111.1V120.0M142.5,111.2V120.2M143.5,110.1V119.8M144.5,111.3V120.1M145.5,111.2V119.7M146.5,110.8V121.1M147.5,109.8V119.8M148.5,111.2V120.1M149.5,110.4V120.4M150.5,111.2V119.9M151.5,111.1V120.7M152.5,111.2V120.2M153.5,110.8V120.1M154.5,111.1V120.0M155.5,111.2V120.0M156.5,111.0V120.2M157.5,109.7V119.8M158.5,110.7V120.0M159.5,111.2V120.1M160.5,110.9V119.9M161.5,110.8V120.0M162.5,110.8V120.1M163.5,109.4V119.8M164.5,110.2V119.7M165.5,111.2V120.5M166.5,110.3V120.1M167.5,111.3V120.2M168.5,110.4V120.1M169.5,110.8V120.2M170.5,110.6V119.9M171.5,110.9V120.9M172.5,110.0V120.2M173.5,109.9V121.7M174.5,111.0V121.0M175.5,111.1V120.0M176.5,111.0V121.2M177.5,110.2V119.8M178.5,110.8V119.8M179.5,111.3V119.8M180.5,110.8V119.8M181.5,109.7V120.4M182.5,109.2V120.0M183.5,110.9V120.2M184.5,111.3V120.0M185.5,109.7V119.9M186.5,110.0V120.3M187.5,108.5V120.3M188.5,110.9V120.3M189.5,110.8V120.2M190.5,111.2V119.9M191.5,111.0V120.7M192.5,110.1V121.8M193.5,110.9V119.8M194.5,110.4V120.4M195.5,111.0V120.2M196.5,110.8V119.8M197.5,110.9V120.9M198.5,110.4V120.1M199.5,110.3V120.3M200.5,111.2V120.1M201.5,110.9V120.2M202.5,110.6V119.8M203.5,110.0V120.2M204.5,110.9V120.7M205.5,110.2V120.0M206.5,111.2V120.5M207.5,110.8V120.5M208.5,110.5V121.2M209.5,111.2V119.8M210.5,110.6V120.4M211.5,110.6V119.8M212.5,110.9V120.4M213.5,110.4V120.1M214.5,110.4V120.4M215.5,110.7V122.1M216.5,111.3V120.4M217.5,110.4V121.1M218.5,111.2V120.1M219.5,110.7V119.7M220.5,111.2V121.3M221.5,111.3V120.7M222.5,111.1V119.7M223.5,111.0V120.5M224.5,110.6V119.8M225.5,110.8V122.5M226.5,110.6V121.1M227.5,110.9V121.1M228.5,110.8V120.3M229.5,111.0V120.3M230.5,111.2V121.6M231.5,110.6V119.7M232.5,111.0V121.8M233.5,111.1V120.0M234.5,110.9V120.0M235.5,110.5V119.7M236.5,111.3V119.9M237.5,111.0V121.1M238.5,110.9V119.7M239.5,110.5V120.4M240.5,110.6V121.6M241.5,110.3V120.0M242.5,110.0V120.1M243.5,111.0V120.1M244.5,111.2V120.6M245.5,111.0V119.9M246.5,110.7V120.1M247.5,110.6V119.7M248.5,109.9V120.0M249.5,110.2V120.2M250.5,110.7V120.1M251.5,110.9V119.9M252.5,110.5V119.7M253.5,111.2V120.1M254.5,110.2V120.7M255.5,111.0V120.9M256.5,110.7V119.7M257.5,110.3V121.0M258.5,110.9V120.3M259.5,111.1V120.6M260.5,111.1V119.8M261.5,110.5V120.1M262.5,111.3V120.6M263.5,110.6V120.0M264.5,110.1V120.5M265.5,110.5V119.9M266.5,111.3V120.1M267.5,111.3V119.8M268.5,110.9V119.9M269.5,111.3V119.9M270.5,111.1V120.1M271.5,110.9V119.7M272.5,111.1V120.1M273.5,110.9V121.1M274.5,111.2V120.3M275.5,110.9V120.2M276.5,110.0V119.9M277.5,110.6V120.4M278.5,111.1V120.0M279.5,110.4V119.9M280.5,110.1V120.0M281.5,111.0V119.8M282.5,110.6V120.6M283.5,110.7V119.9M284.5,111.1V121.4M285.5,110.3V122.5M286.5,111.3V120.7M287.5,111.1V121.2M288.5,111.2V121.9M289.5,110.6V121.1M290.5,109.8V119.9M291.5,111.3V120.3M292.5,110.9V120.7M293.5,111.2V120.5M294.5,109.7V120.5M295.5,109.9V119.9M296.5,110.1V119.9M297.5,111.1V119.8M298.5,110.9V119.8M299.5,110.8V120.6M300.5,110.5V120.5M301.5,110.6V120.4M302.5,111.3V120.0M303.5,111.0V120.2M304.5,111.2V120.8M305.5,110.8V120.1M306.5,111.2V119.8M307.5,110.7V121.2M308.5,110.5V120.6M309.5,111.0V121.1M310.5,111.0V120.0M311.5,111.2V120.1M312.5,111.3V119.8M313.5,111.1V120.2M314.5,111.1V119.8M315.5,109.7V120.0M316.5,110.9V120.0M317.5,111.0V120.4M318.5,110.0V121.2M319.5,109.4V120.1M320.5,111.0V120.3M321.5,111.2V119.8M322.5,111.1V119.8M323.5,111.0V119.7M324.5,111.0V119.8M325.5,110.9V119.8M326.5,108.7V119.8M327.5,110.6V120.2M328.5,111.2V120.1M329.5,111.1V120.0M330.5,110.7V119.8M331.5,109.7V121.0M332.5,110.2V120.0M333.5,110.5V120.0M334.5,110.8V120.0M335.5,111.2V119.7M336.5,111.2V120.7M337.5,111.0V120.3M338.5,111.1V119.8M339.5,108.8V119.9M340.5,111.1V119.7M341.5,111.0V119.8M342.5,111.2V120.8M343.5,109.8V119.8M344.5,109.9V121.0M345.5,110.6V120.8M346.5,110.9V120.3M347.5,111.2V121.3M348.5,110.6V120.9M349.5,110.8V120.6M350.5,110.9V120.1M351.5,110.2V120.3M352.5,110.9V120.1M353.5,110.5V119.7M354.5,111.0V121.6M355.5,111.3V120.6M356.5,110.4V120.1M357.5,110.8V120.1M358.5,111.0V120.6M359.5,111.1V119.9M360.5,110.6V120.1M361.5,111.0V119.8M362.5,111.1V119.9M363.5,111.2V121.8M364.5,110.8V119.9M365.5,110.4V120.1M366.5,110.6V119.9M367.5,109.0V120.1M368.5,111.0V120.0M369.5,110.6V120.6M370.5,111.2V119.9M371.5,111.3V119.8M372.5,110.3V119.9M373.5,109.9V120.0M374.5,110.9V120.8M375.5,110.7V119.9M376.5,111.2V120.6M377.5,111.2V119.8M378.5,111.2V121.1M379.5,110.9V120.1M380.5,110.7V120.4M381.5,110.2V119.9M382.5,110.4V120.1M383.5,109.2V120.5M384.5,111.0V119.7M385.5,109.6V119.8M386.5,109.6V120.6M387.5,110.8V122.5M388.5,110.1V120.4M389.5,111.2V119.8M390.5,110.6V120.5M391.5,111.1V119.9M392.5,110.1V120.3M393.5,111.2V120.3M394.5,110.1V120.9M395.5,110.3V120.1M396.5,110.9V121.5M397.5,111.3V119.7M398.5,111.2V119.7M399.5,111.2V120.1M400.5,111.1V120.1M401.5,111.1V120.6M402.5,111.1V119.9M403.5,111.1V120.5M404.5,108.5V121.4M405.5,111.2V121.0M406.5,111.0V120.0M407.5,111.3V120.7M408.5,111.1V120.0M409.5,111.3V120.1M410.5,111.0V119.8M411.5,111.3V120.1M412.5,111.1V120.0" stroke="#0808f8" stroke-width="1.2" fill="none"/>
<rect x="413" y="115" width="405" height="1" fill="#1c1c9c" shape-rendering="crispEdges"/>
<path d="M103.5,177.0V206.0M104.5,188.7V195.4M105.5,187.9V195.9M106.5,187.9V196.1M107.5,187.3V198.2M108.5,182.5V201.0M109.5,187.7V195.9M110.5,189.4V195.9M111.5,189.0V195.1M112.5,189.8V194.3M113.5,189.3V194.4M114.5,189.0V195.1M115.5,189.5V194.7M116.5,190.0V194.6M117.5,189.2V194.6M118.5,189.2V195.0M119.5,189.1V194.9M120.5,189.6V193.9M121.5,189.0V194.5M122.5,189.1V195.8M123.5,187.9V196.6M124.5,187.8V198.2M125.5,185.7V198.8M126.5,180.0V200.4M127.5,186.4V200.2M128.5,183.6V200.0M129.5,187.5V197.3M130.5,184.0V201.3M131.5,186.8V197.3M132.5,189.2V194.4M133.5,189.2V195.1M134.5,189.6V195.0M135.5,175.4V206.7M136.5,189.6V195.3M137.5,187.7V196.4M138.5,185.6V198.2M139.5,188.3V195.7M140.5,184.4V199.0M141.5,186.1V197.6M142.5,185.2V197.5M143.5,185.1V198.0M144.5,182.0V202.0M145.5,186.8V198.0M146.5,186.3V197.8M147.5,187.9V197.2M148.5,187.3V198.0M149.5,188.8V195.6M150.5,188.2V195.3M151.5,189.2V195.1M152.5,188.7V194.3M153.5,187.9V196.1M154.5,187.8V196.3M155.5,174.0V206.7M156.5,176.0V205.0M157.5,186.7V197.2M158.5,186.1V195.6M159.5,188.5V195.1M160.5,182.0V200.0M161.5,188.5V197.4M162.5,188.2V198.4M163.5,188.0V196.9M164.5,185.3V198.1M165.5,189.3V195.3M166.5,189.0V194.8M167.5,175.4V206.7M168.5,189.2V194.8M169.5,189.0V193.9M170.5,189.2V194.9M171.5,188.6V194.8M172.5,188.9V196.3M173.5,188.3V195.5M174.5,186.8V197.2M175.5,185.8V198.0M176.5,185.9V196.4M177.5,182.0V202.0M178.5,187.1V196.2M179.5,187.7V195.4M180.5,188.5V196.3M181.5,188.7V194.3M182.5,189.8V195.0M183.5,189.5V195.1M184.5,189.4V194.8M185.5,189.2V194.2M186.5,187.3V195.1M187.5,187.1V197.2M188.5,186.0V197.6M189.5,181.0V202.1M190.5,172.3V213.7M191.5,182.9V199.5M192.5,183.1V197.3M193.5,182.4V203.2M194.5,182.0V204.0M195.5,186.6V196.8M196.5,189.1V195.1M197.5,186.8V197.7M198.5,189.7V195.2M199.5,188.9V194.3M200.5,166.0V216.8M201.5,186.8V197.0M202.5,189.9V194.4M203.5,189.7V194.3M204.5,186.3V198.8M205.5,189.3V194.4M206.5,185.7V197.9M207.5,186.3V199.4M208.5,187.9V195.9M209.5,187.7V196.4M210.5,187.2V197.6M211.5,184.0V200.0M212.5,187.3V195.1M213.5,188.7V196.1M214.5,188.1V194.7M215.5,189.1V194.6M216.5,187.1V197.2M217.5,189.1V195.2M218.5,186.6V199.1M219.5,185.7V197.2M220.5,188.6V196.2M221.5,189.4V194.4M222.5,187.2V196.6M223.5,189.3V194.8M224.5,188.5V195.5M225.5,188.2V196.7M226.5,186.0V197.9M227.5,187.0V197.7M228.5,179.0V204.0M229.5,185.4V198.3M230.5,185.4V198.7M231.5,186.9V196.8M232.5,187.5V195.0M233.5,188.5V195.2M234.5,188.1V194.9M235.5,188.0V196.5M236.5,187.6V195.6M237.5,181.0V202.0M238.5,187.7V196.8M239.5,188.1V196.1M240.5,188.4V194.7M241.5,188.1V195.0M242.5,186.7V197.1M243.5,167.6V218.4M244.5,168.0V217.0M245.5,182.8V200.3M246.5,171.0V214.5M247.5,181.9V204.0M248.5,181.9V200.0M249.5,186.7V199.6M250.5,169.0V205.0M251.5,186.6V197.9M252.5,186.6V196.9M253.5,184.8V196.8M254.5,186.2V197.3M255.5,185.1V201.4M256.5,184.8V197.8M257.5,165.0V220.0M258.5,166.0V219.0M259.5,183.8V200.8M260.5,186.3V199.3M261.5,183.8V198.3M262.5,183.0V200.0M263.5,184.8V199.1M264.5,182.7V202.2M265.5,184.5V200.0M266.5,175.0V205.0M267.5,162.0V213.5M268.5,187.5V196.6M269.5,186.6V197.3M270.5,186.4V199.9M271.5,185.1V200.1M272.5,181.0V204.0M273.5,183.9V199.9M274.5,182.3V200.7M275.5,187.5V195.6M276.5,187.8V195.9M277.5,174.0V207.0M278.5,188.2V196.4M279.5,188.1V196.0M280.5,188.5V196.3M281.5,185.0V202.0M282.5,187.2V196.4M283.5,187.7V197.0M284.5,187.7V196.2M285.5,186.9V196.7M286.5,183.0V200.0M287.5,187.8V196.9M288.5,188.0V195.6M289.5,189.1V196.5M290.5,189.2V195.3M291.5,189.2V194.5M292.5,189.2V194.9M293.5,189.3V195.4M294.5,188.7V195.8M295.5,188.1V196.2M296.5,170.0V212.0M297.5,186.0V196.0M298.5,187.6V196.5M299.5,188.9V195.8M300.5,187.7V196.8M301.5,189.0V195.1M302.5,187.6V196.7M303.5,184.6V199.7M304.5,185.5V198.2M305.5,183.7V200.9M306.5,183.0V200.0M307.5,186.8V197.5M308.5,187.1V196.9M309.5,184.9V200.0M310.5,187.4V196.4M311.5,188.6V195.4M312.5,188.7V195.9M313.5,189.0V195.4M314.5,189.5V194.8M315.5,188.4V194.3M316.5,188.7V195.0M317.5,189.7V194.1M318.5,190.4V193.9M319.5,186.6V197.6M320.5,190.4V195.1M321.5,186.7V197.5M322.5,189.5V193.8M323.5,189.8V194.1M324.5,189.9V194.8M325.5,189.7V194.3M326.5,189.8V194.2M327.5,188.2V195.5M328.5,187.6V197.4M329.5,185.1V198.6M330.5,187.5V195.4M331.5,180.0V203.5M332.5,185.6V197.9M333.5,186.2V198.7M334.5,184.4V198.3M335.5,174.0V204.0M336.5,183.1V200.6M337.5,185.0V199.3M338.5,185.1V198.9M339.5,185.9V197.6M340.5,183.0V200.0M341.5,185.7V198.0M342.5,187.4V198.2M343.5,186.3V197.1M344.5,187.2V196.8M345.5,185.4V198.8M346.5,187.6V196.2M347.5,186.7V196.4M348.5,186.2V195.6M349.5,188.7V195.7M350.5,187.8V197.2M351.5,185.7V199.1M352.5,176.0V209.0M353.5,182.2V201.5M354.5,181.0V199.7M355.5,179.9V203.4M356.5,179.0V202.0M357.5,185.2V199.4M358.5,185.9V197.9M359.5,184.4V200.8M360.5,186.9V196.1M361.5,187.0V196.5M362.5,184.6V198.5M363.5,186.5V195.8M364.5,178.5V206.0M365.5,186.1V197.0M366.5,184.8V199.0M367.5,181.3V203.5M368.5,184.1V199.7M369.5,181.0V203.5M370.5,187.3V198.0M371.5,187.2V195.8M372.5,187.2V196.4M373.5,187.3V196.2M374.5,185.2V198.0M375.5,177.0V206.0M376.5,177.0V206.0M377.5,179.6V201.9M378.5,178.0V205.0M379.5,185.6V201.3M380.5,185.3V200.7M381.5,183.9V203.1M382.5,187.0V197.6M383.5,165.0V217.6M384.5,183.4V199.0M385.5,185.2V198.9M386.5,184.2V199.1M387.5,184.1V200.5M388.5,182.0V202.0M389.5,182.4V201.2M390.5,182.3V202.6M391.5,184.2V201.6M392.5,167.0V222.6M393.5,168.0V220.0M394.5,181.9V200.0M395.5,186.0V197.6M396.5,184.2V197.3M397.5,185.0V200.0M398.5,172.0V207.0M399.5,180.5V201.6M400.5,155.0V221.8M401.5,156.0V221.0M402.5,182.0V204.9M403.5,172.0V217.0M404.5,179.3V205.2M405.5,181.3V200.9M406.5,180.0V205.1M407.5,175.0V208.5M408.5,178.7V200.3M409.5,178.4V200.4M410.5,160.0V218.0M411.5,155.0V225.0M412.5,170.0V215.0" stroke="#0a0ae6" stroke-width="1.15" fill="none"/>
<rect x="413" y="192" width="405" height="1" fill="#1c1c9c" shape-rendering="crispEdges"/>
<path d="M831.5,231.5 L831.6,232.5 L832.3,233.5 L831.8,234.5 L832.2,235.5 L831.8,236.5 L831.8,237.5 L832.3,238.5 L832.0,239.6 L832.7,240.6 L832.1,241.7 L831.6,242.8 L831.6,243.9 L830.5,245.1 L831.7,246.2 L831.3,247.3 L828.9,248.4 L830.7,249.5 L830.5,250.6 L831.3,251.7 L832.5,252.8 L830.8,253.9 L832.2,254.9 L832.8,255.9 L834.8,257.0 L836.3,258.0 L837.1,259.0 L836.5,260.1 L835.2,261.1 L835.4,262.2 L834.3,263.3 L834.6,264.3 L835.9,265.3 L834.6,266.3 L833.9,267.3 L833.5,268.3 L833.0,269.3 L833.7,270.3 L834.4,271.5 L831.5,272.6 L830.4,273.8 L828.7,275.0 L828.9,276.3 L829.7,277.6 L829.5,278.9 L829.3,279.9 L829.4,281.0 L831.1,282.0 L832.0,283.0 L832.2,284.0 L830.8,285.0 L829.1,286.1 L828.8,287.2 L827.3,288.4 L826.2,289.5 L825.5,290.6 L825.2,291.8 L824.9,293.0 L824.7,294.1 L823.8,295.3 L822.9,296.4 L820.7,297.4 L823.1,298.5 L822.2,299.5 L821.1,300.6 L822.3,301.6 L820.8,302.6 L821.3,303.7 L821.7,304.7 L821.8,305.7 L821.8,306.8 L820.5,307.8 L821.5,308.8 L823.0,309.9 L824.1,310.9 L824.1,311.9 L823.8,313.0 L824.3,314.0 L824.9,315.1 L827.0,316.1 L826.0,317.1 L827.8,318.2 L826.9,319.2 L827.6,320.3 L827.9,321.4 L829.4,322.5 L828.1,323.6 L828.6,324.7 L828.4,325.8 L828.5,326.9 L829.7,328.0 L828.8,329.1 L829.4,330.1 L828.9,331.2 L829.5,332.3 L830.4,333.3 L831.7,334.4 L832.8,335.5 L831.4,336.7 L833.0,337.9 L832.6,339.0 L833.6,340.8 L832.8,341.8 L832.2,342.8 L831.1,343.8 L829.0,344.8 L827.8,345.8 L826.6,346.8 L827.9,347.8 L825.5,348.9 L826.8,350.0 L826.0,351.1 L826.2,352.3 L824.1,353.4 L825.3,354.5 L825.0,355.6 L824.7,356.6 L825.1,357.7 L824.0,358.7 L825.9,359.7 L824.1,360.8 L824.8,361.8 L825.6,362.8 L825.4,363.9 L826.2,364.9 L825.1,365.9 L824.3,367.0 L825.5,368.0 L825.4,369.0 L823.7,370.0 L825.4,371.0 L825.5,372.0 L823.9,373.0 L825.0,374.0 L824.2,375.0 L824.8,376.0 L823.5,377.0 L824.4,378.0 L824.1,379.0 L823.4,380.0 L822.9,381.0 L822.9,382.0 L823.3,383.0 L823.6,384.0 L822.2,385.0 L822.8,386.0 L822.0,387.0 L823.1,388.0 L822.4,389.0 L821.9,390.0 L821.6,391.0 L820.9,392.1 L820.0,393.1 L821.8,394.2 L820.6,395.2 L820.7,396.2 L821.9,397.3 L821.3,398.3 L820.3,399.4 L821.9,400.4 L820.8,401.5 L821.7,402.5 L820.2,403.5 L820.0,404.6 L820.7,405.6 L821.8,406.6 L819.7,407.7 L820.4,408.7 L822.0,409.7 L823.2,410.8 L821.2,411.8 L820.7,412.8 L821.1,413.9 L820.9,414.9 L822.7,415.9 L822.1,417.0 L820.9,418.0 L822.4,419.0 L820.3,420.0 L822.2,421.0 L822.3,422.0 L822.3,423.0 L822.0,424.0 L822.4,425.0 L821.7,426.0 L823.6,427.0 L822.7,428.0 L824.0,429.0 L824.5,430.0 L823.7,431.0 L823.6,432.0 L824.8,433.0 L825.6,434.0 L824.4,435.0 L825.7,436.0 L825.2,437.0 L827.3,438.1 L826.6,439.2 L825.3,440.3 L826.3,441.4 L826.9,442.5 L826.7,443.6 L827.3,444.7 L827.7,445.7 L827.7,446.7 L827.4,447.7 L828.9,448.7 L828.6,449.7 L827.9,450.7 L828.2,451.7 L826.0,452.9 L823.6,454.0 L824.0,455.2 L823.8,456.4 L823.0,457.6 L822.1,458.8 L820.8,457.8 L822.0,456.8 L824.2,455.8 L822.3,456.9 L824.3,457.9 L824.5,459.0 L824.1,460.1 L824.3,461.2 L825.0,462.2 L824.5,463.3 L824.6,464.4 L825.2,465.4 L824.3,466.4 L825.7,467.4 L823.2,468.4 L823.6,469.4 L823.5,470.4 L823.7,471.4 L822.9,472.4 L824.7,473.4 L823.6,474.4 L821.6,475.4 L822.8,476.4 L823.2,477.4 L823.4,478.4 L823.0,479.4 L822.3,480.4 L823.7,481.4 L822.3,482.4 L823.6,483.4 L822.8,484.4 L824.9,485.4 L824.6,486.4 L825.9,487.4 L824.3,488.4 L824.6,489.4 L824.3,490.4 L825.4,491.5 L823.7,492.5 L825.0,493.6 L824.1,494.6 L824.9,495.7 L824.5,496.8 L823.6,497.8 L823.8,498.9 L822.8,499.9 L823.4,500.9 L823.5,502.0 L824.9,503.1 L824.1,504.2 L824.8,505.2 L824.6,506.3 L824.0,507.4 L825.6,508.5 L826.8,509.6 L826.1,510.6 L826.7,511.7 L826.4,512.8 L826.8,513.8 L827.8,514.9 L825.1,515.9 L826.0,517.0 L825.5,518.0 L826.8,519.0 L826.6,520.1 L826.4,521.1 L827.5,522.2 L828.6,523.2 L828.4,524.3 L828.8,525.3 L827.7,526.3 L828.0,527.3 L828.8,528.3 L828.5,529.3 L828.6,530.3 L827.7,531.3 L827.7,532.3 L827.6,533.3 L829.1,534.3 L827.6,535.3 L828.4,536.3 L828.4,537.3 L828.1,538.4 L827.9,539.4 L828.4,540.5 L827.4,541.5 L828.0,542.5 L828.8,543.6 L827.4,544.6 L828.6,545.7 L828.6,546.7 L828.9,547.8 L826.9,548.8 L829.0,549.9 L828.7,551.0 L829.2,552.1 L829.1,553.3 L828.5,554.4 L829.5,555.5 L829.2,556.6 L829.1,557.6 L829.6,558.7 L830.1,559.7 L830.8,560.7 L830.2,561.8 L832.2,562.8 L829.8,564.1 L830.3,565.4 L829.9,566.7 L829.6,567.7 L829.7,568.7 L829.6,569.7 L830.0,570.8 L828.0,571.8 L827.3,572.8 L827.7,573.8 L826.9,574.8 L828.5,575.8 L825.7,576.9 L827.3,577.9 L827.9,579.0 L827.6,580.1 L827.7,581.2 L826.1,582.2 L826.5,583.3 L826.6,584.4 L827.1,585.4 L827.3,586.4 L828.0,587.4 L826.0,588.4 L827.2,589.4 L828.7,590.4 L828.1,591.4 L827.4,592.4 L827.9,593.4 L827.1,594.4 L828.4,595.4 L827.0,596.4 L828.1,597.4 L827.7,598.4 L827.0,599.4 L827.8,600.4 L827.6,601.4 L827.3,602.4 L827.9,603.4 L827.2,604.4 L828.8,605.5 L828.4,606.5 L828.8,607.5 L828.6,608.5 L828.4,609.5 L827.2,610.5 L828.1,611.5 L828.3,612.5 L828.1,613.5 L828.6,614.6 L828.6,615.6 L828.6,616.7 L828.5,617.7 L829.0,618.8 L828.7,619.8 L830.4,620.8 L830.0,621.9 L830.4,622.9 L830.8,624.0 L830.1,625.0 L831.3,626.0 L829.3,627.1 L830.4,628.1 L831.0,629.2 L832.4,630.2 L832.1,631.2 L832.1,632.3 L832.2,633.3 L831.4,634.4 L831.8,635.4 L831.6,636.5 L832.3,637.5 L831.6,638.6 L832.6,639.7 L832.8,640.8 L833.8,641.9 L833.3,643.0 L834.3,644.0 L834.8,645.1 L835.1,646.2 L835.6,647.3 L835.0,648.4 L835.7,649.4 L836.0,650.5 L836.7,651.5 L836.6,652.6 L837.1,653.6 L837.0,654.7 L837.6,655.7 L837.9,656.8 L838.4,657.8 L839.0,658.8 L840.0,659.9 L840.8,660.9 L841.2,661.9 L842.5,663.0 L842.9,664.0 L845.7,665.2 L847.4,666.4 L849.2,667.6 L851.0,668.8 L854.8,670.1 L857.8,671.4 L860.6,672.7 L863.1,674.0 L864.9,675.3 L866.6,676.6 L867.8,677.7 L869.1,678.8 L870.3,679.8 L871.6,680.9 L872.8,682.0 L875.4,683.1 L878.0,684.1 L880.6,685.2 L886.6,686.7 L885.3,687.8 L881.4,688.8 L877.5,689.8 L865.0,690.8 L896.0,690.8" stroke="#0606c4" stroke-width="1.35" fill="none" stroke-linejoin="round" shape-rendering="crispEdges"/>
<path d="M866,690.5H896.5" stroke="#0606c4" stroke-width="2" fill="none" shape-rendering="crispEdges"/>
<path d="M877,689 L886.5,686.5 L887,687.5 L880,690 Z" fill="#0606c4"/>
</svg></body></html>
